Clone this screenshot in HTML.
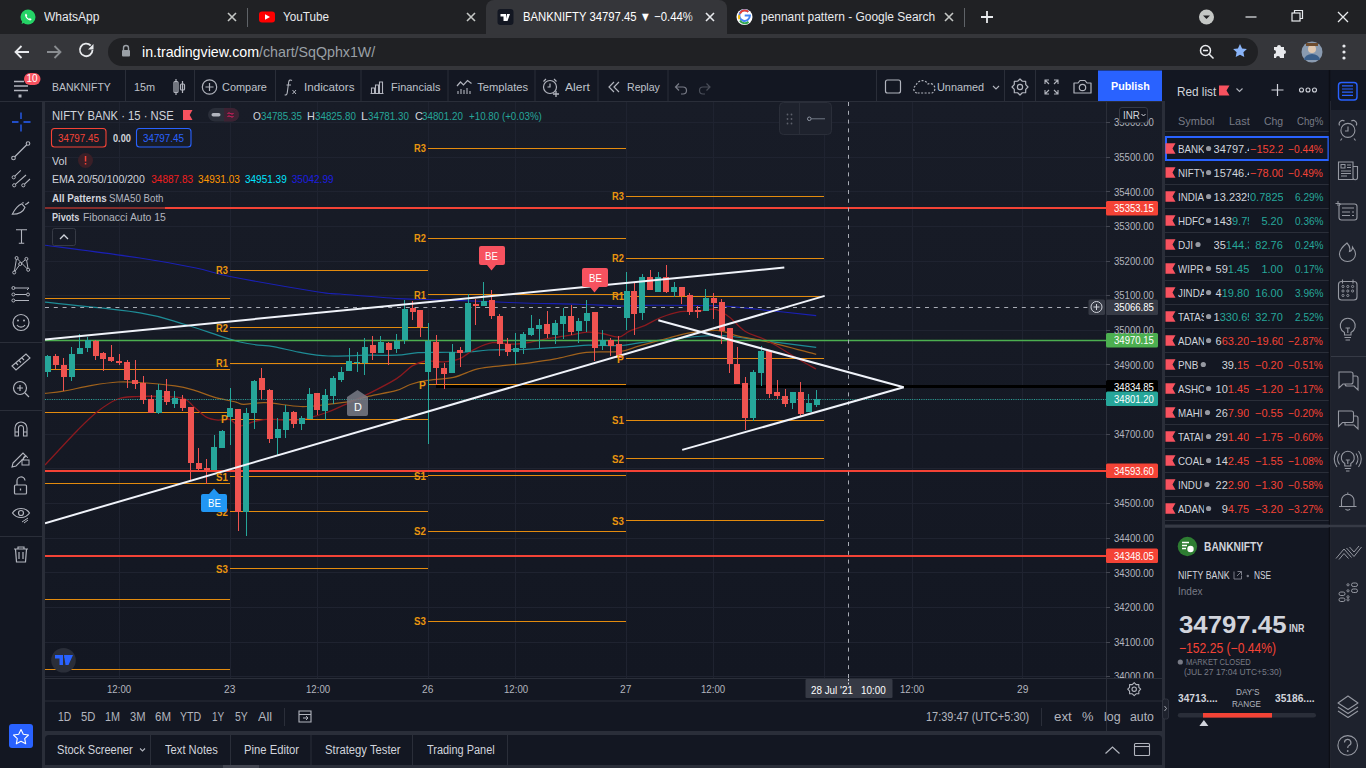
<!DOCTYPE html><html><head><meta charset="utf-8"><style>
*{margin:0;padding:0;box-sizing:border-box}
html,body{width:1366px;height:768px;overflow:hidden;background:#2a2e39;font-family:"Liberation Sans", sans-serif;}
.a{position:absolute;white-space:nowrap}
.t{position:absolute;white-space:nowrap;line-height:1}
svg{position:absolute;left:0;top:0}
</style></head><body>
<div class="a" style="left:0;top:0;width:1366px;height:34px;background:#202124"></div><div class="a" style="left:486px;top:0;width:241px;height:35px;background:#35363a;border-radius:8px 8px 0 0"></div><div class="a" style="left:0;top:34px;width:1366px;height:36px;background:#35363a"></div><div class="a" style="left:108px;top:38px;width:1150px;height:28px;background:#202124;border-radius:14px"></div><svg width="1366" height="70" style="left:0;top:0">
<circle cx="28" cy="17" r="7.5" fill="#25d366"/>
<path d="M21.5 24 L23 19.5 L26 22 Z" fill="#25d366"/>
<path d="M25.3 14.2 c0.5-0.6 1-0.6 1.3 0 l0.6 1.3 c0.1 0.3-0.3 0.7-0.5 1 c0.4 0.9 1.3 1.8 2.2 2.2 c0.3-0.2 0.6-0.6 1-0.5 l1.3 0.6 c0.5 0.3 0.4 0.9-0.1 1.3 c-1.5 1.1-5.3-1.2-6-4.3 c-0.1-0.6 0-1.2 0.2-1.6z" fill="#fff"/>
<rect x="259" y="11.5" width="16" height="11" rx="3" fill="#ff0000"/>
<path d="M265 14.3 L270 17 L265 19.7 Z" fill="#fff"/>
<line x1="247.5" y1="8" x2="247.5" y2="27" stroke="#5f6368" stroke-width="1"/>
<path d="M228 13 L236 21 M236 13 L228 21" stroke="#c4c7c5" stroke-width="1.6"/>
<path d="M467 13 L475 21 M475 13 L467 21" stroke="#c4c7c5" stroke-width="1.6"/>
<rect x="497.5" y="9" width="16" height="16" rx="3" fill="#131722"/>
<path d="M500.5 14 h5.5 v7 h-2.5 v-4.5 h-3z M507 14 h3 l-2.5 7 h-2z" fill="#fff"/>
<path d="M706 13 L714 21 M714 13 L706 21" stroke="#e8eaed" stroke-width="1.6"/>
<circle cx="744.5" cy="17" r="8" fill="#fff"/>
<path d="M744.7 15.6 h5.2 a5.3 5.3 0 1 1 -1.6 -3.8" fill="none" stroke="#4285f4" stroke-width="2"/>
<path d="M740 13.5 a5.3 5.3 0 0 1 8.3 -1.7" fill="none" stroke="#ea4335" stroke-width="2"/>
<path d="M739.4 15 a5.3 5.3 0 0 0 0 4.2" fill="none" stroke="#fbbc05" stroke-width="2"/>
<path d="M740 20.5 a5.3 5.3 0 0 0 8.5 1.2" fill="none" stroke="#34a853" stroke-width="2"/>
<path d="M945 13 L953 21 M953 13 L945 21" stroke="#c4c7c5" stroke-width="1.6"/>
<line x1="964.5" y1="8" x2="964.5" y2="27" stroke="#5f6368" stroke-width="1"/>
<path d="M981 17 h12 M987 11 v12" stroke="#e8eaed" stroke-width="1.8"/>
<circle cx="1206.5" cy="17" r="7.5" fill="#c4c7c5"/>
<path d="M1203 15.5 L1206.5 19 L1210 15.5 Z" fill="#202124"/>
<line x1="1245.5" y1="17" x2="1256.5" y2="17" stroke="#e8eaed" stroke-width="1.2"/>
<rect x="1292" y="13" width="8" height="8" fill="none" stroke="#e8eaed" stroke-width="1.2"/>
<path d="M1294.5 13 v-2.5 h8 v8 h-2.5" fill="none" stroke="#e8eaed" stroke-width="1.2"/>
<path d="M1338 12 L1348 22 M1348 12 L1338 22" stroke="#e8eaed" stroke-width="1.3"/>
<path d="M29 52 H15.5 M21.5 46 L15.5 52 L21.5 58" fill="none" stroke="#e8eaed" stroke-width="1.8"/>
<path d="M47 52 H60.5 M54.5 46 L60.5 52 L54.5 58" fill="none" stroke="#8a8d91" stroke-width="1.8"/>
<path d="M92.5 50 a6.3 6.3 0 1 1 -1.8 -4.5" fill="none" stroke="#e8eaed" stroke-width="1.8"/>
<path d="M93.5 44 v5.5 h-5.5 z" fill="#e8eaed"/>
<rect x="122" y="50" width="8" height="6.5" rx="1" fill="#9aa0a6"/>
<path d="M123.5 50 v-2 a2.5 2.5 0 0 1 5 0 v2" fill="none" stroke="#9aa0a6" stroke-width="1.4"/>
<circle cx="1205.5" cy="50.5" r="5" fill="none" stroke="#e8eaed" stroke-width="1.5"/>
<path d="M1209 54 L1213.5 58.5 M1203 50.5 h5" stroke="#e8eaed" stroke-width="1.5"/>
<path d="M1240 44 l2.1 4.4 4.8 0.6 -3.5 3.3 0.9 4.8 -4.3 -2.3 -4.3 2.3 0.9 -4.8 -3.5 -3.3 4.8 -0.6z" fill="#8ab4f8"/>
<path d="M1274 47 h3 a2 2 0 0 1 4 0 h3 v3 a2 2 0 0 1 0 4 v4 h-4 a2 2 0 0 0 -4 0 h-2 v-4 a2 2 0 0 0 0 -4z" fill="#e8eaed"/>
<circle cx="1312" cy="52" r="10.5" fill="#8a9bb0"/>
<circle cx="1312" cy="49" r="4" fill="#e0c8b0"/>
<path d="M1304 60 a8 6 0 0 1 16 0" fill="#3b5f8a"/>
<rect x="1306" y="43" width="12" height="3" fill="#6d4c2f"/>
<circle cx="1344" cy="46" r="1.6" fill="#e8eaed"/><circle cx="1344" cy="52" r="1.6" fill="#e8eaed"/><circle cx="1344" cy="58" r="1.6" fill="#e8eaed"/>
</svg><div class="t" style="left:44.3px;top:11.0px;font-size:12.5px;color:#e8eaed;font-weight:normal;transform:scaleX(0.962);transform-origin:0 50%;">WhatsApp</div><div class="t" style="left:283.3px;top:11.0px;font-size:12.5px;color:#e8eaed;font-weight:normal;transform:scaleX(0.936);transform-origin:0 50%;">YouTube</div><div class="t" style="left:522.5px;top:11.0px;font-size:12.5px;color:#fff;font-weight:normal;transform:scaleX(0.905);transform-origin:0 50%;">BANKNIFTY 34797.45 ▼ −0.44%</div><div class="a" style="left:688px;top:6px;width:14px;height:22px;background:linear-gradient(90deg,rgba(53,54,58,0),#35363a)"></div><div class="t" style="left:761.0px;top:11.0px;font-size:12.5px;color:#e8eaed;font-weight:normal;transform:scaleX(0.957);transform-origin:0 50%;">pennant pattern - Google Search</div><div class="t" style="left:141.8px;top:45.0px;font-size:14.5px;color:#fff;font-weight:normal;transform:scaleX(0.981);transform-origin:0 50%;"><span style="color:#fff">in.tradingview.com</span><span style="color:#9aa0a6">/chart/SqQphx1W/</span></div><!--TV--><div class="a" style="left:0;top:70px;width:1366px;height:31px;background:#131722"></div><div class="a" style="left:0;top:102px;width:42px;height:666px;background:#131722"></div><div class="a" style="left:45px;top:102px;width:1117px;height:629px;background:#131722"></div><div class="a" style="left:45px;top:102px;width:1117px;height:576px;background:linear-gradient(180deg,#181c27,#131722)"></div><div class="a" style="left:45px;top:735px;width:1117px;height:30px;background:#131722;border-radius:4px 4px 0 0"></div><div class="a" style="left:1165px;top:70px;width:164px;height:455px;background:#131722"></div><div class="a" style="left:1165px;top:528px;width:164px;height:240px;background:#131722"></div><div class="a" style="left:1331px;top:70px;width:35px;height:698px;background:#1e222d"></div><div class="a" style="left:1331px;top:70px;width:35px;height:40px;background:#131722"></div><svg width="1366" height="768">
<line x1="125.5" y1="70" x2="125.5" y2="101" stroke="#2a2e39" stroke-width="1"/>
<line x1="194.5" y1="70" x2="194.5" y2="101" stroke="#2a2e39" stroke-width="1"/>
<line x1="275.5" y1="70" x2="275.5" y2="101" stroke="#2a2e39" stroke-width="1"/>
<line x1="361" y1="70" x2="361" y2="101" stroke="#2a2e39" stroke-width="1"/>
<line x1="448" y1="70" x2="448" y2="101" stroke="#2a2e39" stroke-width="1"/>
<line x1="535" y1="70" x2="535" y2="101" stroke="#2a2e39" stroke-width="1"/>
<line x1="598" y1="70" x2="598" y2="101" stroke="#2a2e39" stroke-width="1"/>
<line x1="668" y1="70" x2="668" y2="101" stroke="#2a2e39" stroke-width="1"/>
<line x1="876.5" y1="70" x2="876.5" y2="101" stroke="#2a2e39" stroke-width="1"/>
<line x1="1004.5" y1="70" x2="1004.5" y2="101" stroke="#2a2e39" stroke-width="1"/>
<line x1="1035.5" y1="70" x2="1035.5" y2="101" stroke="#2a2e39" stroke-width="1"/>
<line x1="0" y1="101.5" x2="1162" y2="101.5" stroke="#2a2e39" stroke-width="1.2"/>
<rect x="1098" y="70.5" width="64" height="30.5" fill="#2962ff"/>
<path d="M14 81.5 h10 M14 86 h14 M14 90.5 h14" stroke="#b2b5be" stroke-width="1.4"/><rect x="18.5" y="94.5" width="3" height="3" fill="#b2b5be"/>
<rect x="24" y="73" width="16.5" height="12" rx="6" fill="#f7525f"/>
<rect x="174" y="81.5" width="4" height="11" rx="1" fill="none" stroke="#b2b5be" stroke-width="1.2"/><line x1="176" y1="79" x2="176" y2="95" stroke="#b2b5be" stroke-width="1.2"/>
<rect x="180.5" y="84" width="4" height="6" rx="1" fill="none" stroke="#b2b5be" stroke-width="1.2"/><line x1="182.5" y1="81" x2="182.5" y2="93" stroke="#b2b5be" stroke-width="1.2"/>
<circle cx="209.5" cy="87" r="7.2" fill="none" stroke="#b2b5be" stroke-width="1.2"/><path d="M209.5 83 v8 M205.5 87 h8" stroke="#b2b5be" stroke-width="1.2"/>
<path d="M292 80.5 c-1.5-1-3-0.5-3.3 1.5 l-1.5 11 c-0.3 1.8-1.3 2.2-2.5 1.8 M286.5 85 h4.5" fill="none" stroke="#b2b5be" stroke-width="1.1"/><path d="M292.5 90 l3.5 4 M296 90 l-3.5 4" stroke="#b2b5be" stroke-width="1"/>
<path d="M370.5 93.5 h13 M371.5 93 v-5 h3 v5 M375.5 93 v-8 h3 v8 M379.5 93 v-11 h3 v11" fill="none" stroke="#b2b5be" stroke-width="1.1"/>
<path d="M457 86 l3.5-4 3 3 4-4.5 4 3" fill="none" stroke="#b2b5be" stroke-width="1.2"/><path d="M458 94 v-3 M461 94 v-5 M464 94 v-4 M467 94 v-6 M470 94 v-3" stroke="#b2b5be" stroke-width="1.1"/>
<circle cx="550" cy="87" r="6.5" fill="none" stroke="#b2b5be" stroke-width="1.2"/><path d="M550 83.5 v3.5 h-2.5 M543.5 81.5 l2.5-2.5 M556.5 81.5 l-2.5-2.5" fill="none" stroke="#b2b5be" stroke-width="1.2"/><path d="M556 91 v6 M553 94 h6" stroke="#b2b5be" stroke-width="1.3"/>
<path d="M614 82 l-5 5 5 5 M619 82 l-5 5 5 5" fill="none" stroke="#b2b5be" stroke-width="1.2"/>
<path d="M676 87 h7 a3.5 3.5 0 0 1 0 7 h-2 M679 83.5 l-3.5 3.5 3.5 3.5" fill="none" stroke="#787b86" stroke-width="1.2"/>
<path d="M710 87 h-7 a3.5 3.5 0 0 0 0 7 h2 M706.5 83.5 l3.5 3.5 -3.5 3.5" fill="none" stroke="#4a4e59" stroke-width="1.2"/>
<rect x="885.5" y="80" width="15" height="13" rx="2" fill="none" stroke="#b2b5be" stroke-width="1.2"/>
<path d="M917 93 a4 4 0 0 1 -1 -7.5 a6.5 6.5 0 0 1 12 -1.5 a4.5 4.5 0 0 1 4 9 z" fill="none" stroke="#b2b5be" stroke-width="1.2" stroke-dasharray="2 1.5"/>
<path d="M993 86 l3 3 3-3" fill="none" stroke="#b2b5be" stroke-width="1.1"/>
<polygon points="1028.00,87.00 1025.73,89.37 1025.66,92.66 1022.37,92.73 1020.00,95.00 1017.63,92.73 1014.34,92.66 1014.27,89.37 1012.00,87.00 1014.27,84.63 1014.34,81.34 1017.63,81.27 1020.00,79.00 1022.37,81.27 1025.66,81.34 1025.73,84.63" fill="none" stroke="#b2b5be" stroke-width="1.2" stroke-linejoin="round"/><circle cx="1020" cy="87" r="2.6" fill="none" stroke="#b2b5be" stroke-width="1.2"/>
<path d="M1045 84 v-4 h4 M1045 80 l4 4 M1058 84 v-4 h-4 M1058 80 l-4 4 M1045 90 v4 h4 M1045 94 l4 -4 M1058 90 v4 h-4 M1058 94 l-4 -4" fill="none" stroke="#b2b5be" stroke-width="1.1"/>
<path d="M1074 83 h4 l2-2.5 h5 l2 2.5 h4 v10 h-17z" fill="none" stroke="#b2b5be" stroke-width="1.2" stroke-linejoin="round"/><circle cx="1082.5" cy="87.5" r="3.2" fill="none" stroke="#b2b5be" stroke-width="1.2"/>
<path d="M21 112.5 v6.5 M21 124.5 v7 M12 122 h6.5 M23.5 122 h7" stroke="#2962ff" stroke-width="1.3"/>
<path d="M14.5 157 L27 144.5" stroke="#b2b5be" stroke-width="1.2"/><circle cx="13.5" cy="158" r="1.8" fill="#131722" stroke="#b2b5be" stroke-width="1.1"/><circle cx="28" cy="143.5" r="1.8" fill="#131722" stroke="#b2b5be" stroke-width="1.1"/>
<path d="M14.6 176.3 L20.8 170.3 M15.3 184.3 L26 175 M24.3 184.3 L30 179" stroke="#b2b5be" stroke-width="1.1"/><circle cx="13.7" cy="177.3" r="1.6" fill="#131722" stroke="#b2b5be" stroke-width="1"/><circle cx="14.2" cy="185.3" r="1.6" fill="#131722" stroke="#b2b5be" stroke-width="1"/><circle cx="23.3" cy="185.3" r="1.6" fill="#131722" stroke="#b2b5be" stroke-width="1"/>
<path d="M12.3 214.3 c2.5-5 6-9 9.5-10.5 l3.2 3.5 c-1.5 4-6 7-12.7 7z M25 204.5 c1.3 0 2.5-1 4-2.5 M23 202 v1.5" fill="none" stroke="#b2b5be" stroke-width="1.1"/>
<path d="M16 229.7 h11 M21.5 229.7 v13.5 M18.8 243.2 h5.4" stroke="#b2b5be" stroke-width="1.1"/>
<path d="M16.6 258 L14.2 272.5 M16.6 258 L28.2 269.8 M26.4 258.9 L20.2 264 L14.2 272.5 M26.4 258.9 L28.2 269.8" fill="none" stroke="#b2b5be" stroke-width="1"/><circle cx="16.6" cy="258" r="1.5" fill="#131722" stroke="#b2b5be"/><circle cx="26.4" cy="258.9" r="1.5" fill="#131722" stroke="#b2b5be"/><circle cx="20.2" cy="264" r="1.5" fill="#131722" stroke="#b2b5be"/><circle cx="14.2" cy="272.5" r="1.5" fill="#131722" stroke="#b2b5be"/><circle cx="28.2" cy="269.8" r="1.5" fill="#131722" stroke="#b2b5be"/>
<path d="M15 288 h14 l-2 2 M15 294.5 h12 M15 300.5 h14" fill="none" stroke="#b2b5be" stroke-width="1"/><circle cx="13.4" cy="288" r="1.5" fill="#131722" stroke="#b2b5be"/><circle cx="13.4" cy="294.5" r="1.5" fill="#131722" stroke="#b2b5be"/><circle cx="28" cy="294.5" r="1.5" fill="#131722" stroke="#b2b5be"/><circle cx="13.4" cy="300.5" r="1.5" fill="#131722" stroke="#b2b5be"/>
<circle cx="21" cy="322.5" r="8" fill="none" stroke="#b2b5be" stroke-width="1.2"/><circle cx="18" cy="320.5" r="1" fill="#b2b5be"/><circle cx="24" cy="320.5" r="1" fill="#b2b5be"/><path d="M17 325 a4.5 4 0 0 0 8 0" fill="none" stroke="#b2b5be" stroke-width="1.2"/>
<line x1="0" y1="342.5" x2="42" y2="342.5" stroke="#2a2e39"/><line x1="0" y1="410.5" x2="42" y2="410.5" stroke="#2a2e39"/><line x1="0" y1="536.5" x2="42" y2="536.5" stroke="#2a2e39"/>
<path d="M12 366 l14-12 4 4 -14 12z M16 363 l2 2 M19 360.5 l2 2 M22 358 l2 2" fill="none" stroke="#b2b5be" stroke-width="1.1"/>
<circle cx="20" cy="388" r="6.5" fill="none" stroke="#b2b5be" stroke-width="1.2"/><path d="M20 385 v6 M17 388 h6 M25 393 l4 4" stroke="#b2b5be" stroke-width="1.2"/>
<path d="M15 436 v-8 a6 6 0 0 1 12 0 v8 h-3.5 v-8 a2.5 2.5 0 0 0 -5 0 v8 z M15 432 h3.5 M23.5 432 h3.5" fill="none" stroke="#b2b5be" stroke-width="1.1"/>
<path d="M13 463 l10-10 3 3 -10 10 -4 1z" fill="none" stroke="#b2b5be" stroke-width="1.1"/><rect x="22" y="460" width="7" height="5" fill="none" stroke="#b2b5be" stroke-width="1"/><path d="M23.5 460 v-2 a2 2 0 0 1 4 0" fill="none" stroke="#b2b5be"/>
<rect x="14.5" y="485" width="12" height="9" rx="1" fill="none" stroke="#b2b5be" stroke-width="1.2"/><path d="M17 485 v-3.5 a4 4 0 0 1 8 -1" fill="none" stroke="#b2b5be" stroke-width="1.2"/><path d="M20.5 488.5 v2" stroke="#b2b5be" stroke-width="1.3"/>
<path d="M12.5 513 c4-6 13-6 17 0 c-4 6-13 6-17 0z" fill="none" stroke="#b2b5be" stroke-width="1.2"/><circle cx="21" cy="513" r="2.5" fill="none" stroke="#b2b5be" stroke-width="1.2"/><path d="M22 522 l6-4 M24 523 l4-3" stroke="#b2b5be" stroke-width="1"/>
<path d="M14 549 h14 M18 549 v-2 h6 v2 M15.5 549 l1 13 h9 l1-13 M19 552 v7 M23 552 v7" fill="none" stroke="#b2b5be" stroke-width="1.2"/>
<rect x="9" y="724" width="24" height="24" rx="3" fill="#2962ff"/>
<path d="M21 729.5 l2.3 4.8 5.2 0.7 -3.8 3.6 1 5.2 -4.7 -2.5 -4.7 2.5 1 -5.2 -3.8 -3.6 5.2 -0.7z" fill="none" stroke="#fff" stroke-width="1.1" stroke-linejoin="round"/>
</svg><div class="t" style="left:52.4px;top:81.6px;font-size:11.2px;color:#bfc2ca;font-weight:normal;transform:scaleX(0.937);transform-origin:0 50%;">BANKNIFTY</div><div class="t" style="left:134.0px;top:81.6px;font-size:11.2px;color:#bfc2ca;font-weight:normal;transform:scaleX(0.973);transform-origin:0 50%;">15m</div><div class="t" style="left:222.4px;top:81.6px;font-size:11.2px;color:#bfc2ca;font-weight:normal;transform:scaleX(0.977);transform-origin:0 50%;">Compare</div><div class="t" style="left:304.0px;top:81.6px;font-size:11.2px;color:#bfc2ca;font-weight:normal;transform:scaleX(1.040);transform-origin:0 50%;">Indicators</div><div class="t" style="left:390.5px;top:81.6px;font-size:11.2px;color:#bfc2ca;font-weight:normal;transform:scaleX(0.980);transform-origin:0 50%;">Financials</div><div class="t" style="left:477.2px;top:81.6px;font-size:11.2px;color:#bfc2ca;font-weight:normal;">Templates</div><div class="t" style="left:565.0px;top:81.6px;font-size:11.2px;color:#bfc2ca;font-weight:normal;transform:scaleX(1.081);transform-origin:0 50%;">Alert</div><div class="t" style="left:627.0px;top:81.6px;font-size:11.2px;color:#bfc2ca;font-weight:normal;transform:scaleX(0.944);transform-origin:0 50%;">Replay</div><div class="t" style="left:936.7px;top:81.6px;font-size:11.2px;color:#bfc2ca;font-weight:normal;transform:scaleX(0.972);transform-origin:0 50%;">Unnamed</div><div class="t" style="left:1110.8px;top:80.5px;font-size:11.5px;color:#fff;font-weight:bold;transform:scaleX(0.935);transform-origin:0 50%;">Publish</div><div class="t" style="left:26.5px;top:74.2px;font-size:10px;color:#fff;font-weight:normal;">10</div><!--CHART--><svg width="1366" height="768"><defs><clipPath id="cc"><rect x="45" y="102" width="1061" height="576"/></clipPath></defs>
<g clip-path="url(#cc)">
<line x1="45" y1="122.5" x2="1106" y2="122.5" stroke="#1f2330" stroke-width="1"/>
<line x1="45" y1="157.5" x2="1106" y2="157.5" stroke="#1f2330" stroke-width="1"/>
<line x1="45" y1="191.5" x2="1106" y2="191.5" stroke="#1f2330" stroke-width="1"/>
<line x1="45" y1="226.5" x2="1106" y2="226.5" stroke="#1f2330" stroke-width="1"/>
<line x1="45" y1="261.5" x2="1106" y2="261.5" stroke="#1f2330" stroke-width="1"/>
<line x1="45" y1="295.5" x2="1106" y2="295.5" stroke="#1f2330" stroke-width="1"/>
<line x1="45" y1="330.5" x2="1106" y2="330.5" stroke="#1f2330" stroke-width="1"/>
<line x1="45" y1="364.5" x2="1106" y2="364.5" stroke="#1f2330" stroke-width="1"/>
<line x1="45" y1="399.5" x2="1106" y2="399.5" stroke="#1f2330" stroke-width="1"/>
<line x1="45" y1="434.5" x2="1106" y2="434.5" stroke="#1f2330" stroke-width="1"/>
<line x1="45" y1="468.5" x2="1106" y2="468.5" stroke="#1f2330" stroke-width="1"/>
<line x1="45" y1="503.5" x2="1106" y2="503.5" stroke="#1f2330" stroke-width="1"/>
<line x1="45" y1="538.5" x2="1106" y2="538.5" stroke="#1f2330" stroke-width="1"/>
<line x1="45" y1="572.5" x2="1106" y2="572.5" stroke="#1f2330" stroke-width="1"/>
<line x1="45" y1="607.5" x2="1106" y2="607.5" stroke="#1f2330" stroke-width="1"/>
<line x1="45" y1="642.5" x2="1106" y2="642.5" stroke="#1f2330" stroke-width="1"/>
<line x1="45" y1="676.5" x2="1106" y2="676.5" stroke="#1f2330" stroke-width="1"/>
<line x1="119.5" y1="102" x2="119.5" y2="678" stroke="#1f2330" stroke-width="1"/>
<line x1="230.5" y1="102" x2="230.5" y2="678" stroke="#1f2330" stroke-width="1"/>
<line x1="317.5" y1="102" x2="317.5" y2="678" stroke="#1f2330" stroke-width="1"/>
<line x1="428.5" y1="102" x2="428.5" y2="678" stroke="#1f2330" stroke-width="1"/>
<line x1="515.5" y1="102" x2="515.5" y2="678" stroke="#1f2330" stroke-width="1"/>
<line x1="626.5" y1="102" x2="626.5" y2="678" stroke="#1f2330" stroke-width="1"/>
<line x1="713.5" y1="102" x2="713.5" y2="678" stroke="#1f2330" stroke-width="1"/>
<line x1="824.5" y1="102" x2="824.5" y2="678" stroke="#1f2330" stroke-width="1"/>
<line x1="912.5" y1="102" x2="912.5" y2="678" stroke="#1f2330" stroke-width="1"/>
<line x1="1022.5" y1="102" x2="1022.5" y2="678" stroke="#1f2330" stroke-width="1"/>
<line x1="45" y1="298.5" x2="230" y2="298.5" stroke="#e38b0e" stroke-width="1.2"/>
<line x1="45" y1="369.5" x2="230" y2="369.5" stroke="#e38b0e" stroke-width="1.2"/>
<line x1="45" y1="412.5" x2="230" y2="412.5" stroke="#e38b0e" stroke-width="1.2"/>
<line x1="45" y1="483.5" x2="230" y2="483.5" stroke="#e38b0e" stroke-width="1.2"/>
<line x1="45" y1="555.5" x2="230" y2="555.5" stroke="#e38b0e" stroke-width="1.2"/>
<line x1="45" y1="599.5" x2="230" y2="599.5" stroke="#e38b0e" stroke-width="1.2"/>
<line x1="45" y1="669.5" x2="230" y2="669.5" stroke="#e38b0e" stroke-width="1.2"/>
<line x1="230" y1="270.5" x2="428" y2="270.5" stroke="#e38b0e" stroke-width="1.2"/>
<line x1="230" y1="327.5" x2="428" y2="327.5" stroke="#e38b0e" stroke-width="1.2"/>
<line x1="230" y1="363.5" x2="428" y2="363.5" stroke="#e38b0e" stroke-width="1.2"/>
<line x1="230" y1="419.5" x2="428" y2="419.5" stroke="#e38b0e" stroke-width="1.2"/>
<line x1="230" y1="476.5" x2="428" y2="476.5" stroke="#e38b0e" stroke-width="1.2"/>
<line x1="230" y1="511.5" x2="428" y2="511.5" stroke="#e38b0e" stroke-width="1.2"/>
<line x1="230" y1="568.5" x2="428" y2="568.5" stroke="#e38b0e" stroke-width="1.2"/>
<line x1="428" y1="148.5" x2="626" y2="148.5" stroke="#e38b0e" stroke-width="1.2"/>
<line x1="428" y1="238.5" x2="626" y2="238.5" stroke="#e38b0e" stroke-width="1.2"/>
<line x1="428" y1="294.5" x2="626" y2="294.5" stroke="#e38b0e" stroke-width="1.2"/>
<line x1="428" y1="384.5" x2="626" y2="384.5" stroke="#e38b0e" stroke-width="1.2"/>
<line x1="428" y1="475.5" x2="626" y2="475.5" stroke="#e38b0e" stroke-width="1.2"/>
<line x1="428" y1="531.5" x2="626" y2="531.5" stroke="#e38b0e" stroke-width="1.2"/>
<line x1="428" y1="621.5" x2="626" y2="621.5" stroke="#e38b0e" stroke-width="1.2"/>
<line x1="626" y1="196.5" x2="824" y2="196.5" stroke="#e38b0e" stroke-width="1.2"/>
<line x1="626" y1="258.5" x2="824" y2="258.5" stroke="#e38b0e" stroke-width="1.2"/>
<line x1="626" y1="296.5" x2="824" y2="296.5" stroke="#e38b0e" stroke-width="1.2"/>
<line x1="626" y1="358.5" x2="824" y2="358.5" stroke="#e38b0e" stroke-width="1.2"/>
<line x1="626" y1="420.5" x2="824" y2="420.5" stroke="#e38b0e" stroke-width="1.2"/>
<line x1="626" y1="458.5" x2="824" y2="458.5" stroke="#e38b0e" stroke-width="1.2"/>
<line x1="626" y1="520.5" x2="824" y2="520.5" stroke="#e38b0e" stroke-width="1.2"/>
<path d="M45.0,245.2 C60.8,247.3 114.8,254.2 140.0,258.0 C165.2,261.8 181.0,264.9 196.0,268.0 C211.0,271.1 209.9,272.6 230.0,276.5 C250.1,280.4 298.4,288.8 316.7,291.7 C335.0,294.6 326.4,292.9 340.0,294.0 C353.6,295.1 381.9,297.6 398.6,298.6 C415.3,299.6 426.6,299.4 440.0,299.8 C453.4,300.2 463.8,300.7 478.8,301.3 C493.8,301.9 513.4,302.7 530.0,303.2 C546.6,303.7 563.6,303.7 578.6,304.2 C593.6,304.7 609.0,305.8 620.0,306.0 C631.0,306.2 628.5,305.3 644.7,305.3 C660.9,305.3 698.5,305.1 717.3,305.8 C736.0,306.5 740.7,307.7 757.2,309.3 C773.7,310.9 806.4,314.6 816.2,315.6" fill="none" stroke="#1a20b5" stroke-width="1.15" stroke-opacity="1.0"/>
<path d="M45.0,302.2 C60.8,304.0 116.7,309.1 140.0,312.8 C163.3,316.5 168.3,319.6 185.0,324.5 C201.7,329.4 225.3,338.3 240.0,342.0 C254.7,345.7 263.6,344.9 273.4,346.6 C283.2,348.3 289.7,350.5 298.8,352.1 C307.9,353.7 316.4,355.5 328.1,356.0 C339.9,356.5 357.9,355.3 369.3,355.2 C380.7,355.1 388.5,355.6 396.6,355.2 C404.7,354.8 410.8,353.2 418.0,352.7 C425.2,352.2 431.5,352.4 440.0,352.3 C448.5,352.2 460.9,352.4 469.0,352.0 C477.1,351.6 478.4,350.5 488.6,350.0 C498.8,349.5 516.6,349.7 530.0,349.1 C543.4,348.5 559.1,347.2 568.8,346.6 C578.5,346.0 579.9,345.4 588.4,345.2 C596.9,345.0 611.5,345.9 620.0,345.5 C628.5,345.1 631.2,343.9 639.3,342.9 C647.4,341.9 655.6,340.6 668.6,339.4 C681.6,338.2 700.6,335.2 717.3,335.5 C734.0,335.8 752.4,339.4 768.9,341.4 C785.4,343.4 808.3,346.3 816.2,347.3" fill="none" stroke="#1e8c96" stroke-width="1.2" stroke-opacity="1.0"/>
<path d="M45.0,393.4 C48.1,393.0 55.6,392.5 63.4,391.2 C71.2,389.9 82.9,386.8 92.0,385.3 C101.1,383.8 110.0,382.5 118.0,382.0 C126.0,381.5 130.5,381.9 140.0,382.5 C149.5,383.1 165.9,384.6 175.0,385.9 C184.1,387.2 188.1,388.5 194.6,390.4 C201.1,392.3 207.1,395.2 214.0,397.2 C220.9,399.1 231.1,400.9 236.0,402.1 C240.9,403.3 238.7,404.2 243.7,404.3 C248.7,404.4 256.3,402.3 265.8,402.7 C275.3,403.1 290.4,406.2 300.8,406.5 C311.2,406.8 319.9,405.2 328.1,404.3 C336.3,403.4 343.1,402.7 350.0,401.3 C356.9,399.9 361.5,398.0 369.3,396.2 C377.1,394.4 389.8,392.3 396.6,390.4 C403.4,388.4 405.4,386.1 410.3,384.5 C415.2,382.9 418.7,381.8 425.9,380.6 C433.1,379.4 445.2,379.2 453.4,377.4 C461.6,375.6 468.4,371.4 474.9,369.6 C481.4,367.8 486.3,367.5 492.5,366.7 C498.7,365.9 505.8,365.3 512.0,364.7 C518.2,364.1 522.8,363.8 530.0,362.8 C537.2,361.8 545.8,360.6 555.2,358.9 C564.6,357.2 575.6,353.6 586.4,352.4 C597.2,351.2 611.2,352.6 620.0,351.5 C628.8,350.4 631.2,348.1 639.3,345.8 C647.4,343.6 660.5,340.1 668.6,338.0 C676.7,335.9 680.0,334.4 688.1,333.1 C696.2,331.8 708.9,329.9 717.3,330.4 C725.7,330.9 729.8,334.2 738.4,336.2 C747.0,338.1 755.9,339.1 768.9,342.1 C781.9,345.1 808.3,352.3 816.2,354.3" fill="none" stroke="#a0621c" stroke-width="1.2" stroke-opacity="1.0"/>
<path d="M45.0,465.0 C50.5,459.2 69.1,438.9 77.8,430.0 C86.5,421.1 90.6,416.9 97.3,411.7 C104.0,406.5 111.5,401.5 118.0,399.0 C124.5,396.5 129.0,397.0 136.0,396.6 C143.0,396.2 152.2,396.2 160.0,396.5 C167.8,396.8 177.1,396.4 182.9,398.2 C188.7,400.0 190.7,404.2 194.6,407.4 C198.5,410.5 202.4,415.0 206.3,417.1 C210.2,419.2 214.1,419.7 218.0,420.1 C221.9,420.5 226.4,418.5 230.0,419.5 C233.6,420.5 235.2,425.7 239.3,426.0 C243.4,426.3 249.7,422.4 254.8,421.3 C259.9,420.2 263.9,419.2 270.2,419.1 C276.5,419.0 286.0,420.6 292.4,420.4 C298.8,420.2 302.7,419.3 308.6,417.9 C314.6,416.5 321.2,414.6 328.1,412.0 C335.0,409.4 343.1,405.4 350.0,402.3 C356.9,399.2 361.5,397.2 369.3,393.3 C377.1,389.4 389.4,383.2 396.6,378.6 C403.8,374.0 407.4,368.8 412.3,365.9 C417.2,363.0 420.7,361.7 425.9,361.0 C431.1,360.3 438.1,362.2 443.7,361.8 C449.3,361.4 454.1,361.0 459.3,358.9 C464.5,356.8 469.4,351.8 474.9,349.1 C480.4,346.4 486.3,343.5 492.5,342.7 C498.7,341.9 505.8,344.3 512.0,344.2 C518.2,344.1 524.8,343.1 530.0,342.3 C535.2,341.5 536.9,340.5 543.4,339.3 C549.9,338.1 561.5,336.6 568.8,335.4 C576.1,334.2 581.9,332.4 587.4,332.1 C592.9,331.8 596.8,332.7 602.0,333.5 C607.2,334.3 614.2,337.4 618.8,337.0 C623.4,336.6 625.1,333.1 629.5,331.2 C633.9,329.2 640.0,327.6 645.2,325.3 C650.4,323.0 654.9,319.8 660.8,317.5 C666.6,315.2 674.1,312.7 680.3,311.6 C686.5,310.5 692.0,311.4 697.9,311.0 C703.8,310.6 710.4,308.3 715.6,309.3 C720.8,310.3 724.4,313.5 729.3,317.1 C734.2,320.8 739.7,327.8 744.9,331.2 C750.1,334.6 755.6,335.4 760.5,337.6 C765.4,339.8 767.6,340.8 774.2,344.5 C780.8,348.2 793.0,355.9 800.0,360.0 C807.0,364.1 813.3,367.5 816.0,369.0" fill="none" stroke="#8b1a1f" stroke-width="1.3" stroke-opacity="1.0"/>
<line x1="45" y1="208" x2="1106" y2="208" stroke="#f44336" stroke-width="2"/>
<line x1="45" y1="471" x2="1106" y2="471" stroke="#f44336" stroke-width="2"/>
<line x1="45" y1="556" x2="1106" y2="556" stroke="#f44336" stroke-width="2"/>
<line x1="45" y1="340.5" x2="1106" y2="340.5" stroke="#4caf50" stroke-width="1.5"/>
<line x1="45" y1="307.5" x2="1106" y2="307.5" stroke="#a9acb5" stroke-width="1" stroke-dasharray="4 4.8"/>
<line x1="848.5" y1="102" x2="848.5" y2="678" stroke="#a9acb5" stroke-width="1" stroke-dasharray="4 4.8"/>
<rect x="436" y="385" width="670" height="3" fill="#000"/>
<line x1="45" y1="399.5" x2="1106" y2="399.5" stroke="#26a69a" stroke-width="1" stroke-dasharray="1 1.3"/>
<rect x="47" y="355" width="1" height="22" fill="#26a69a"/>
<rect x="45" y="356" width="6" height="16" fill="#26a69a"/>
<rect x="55" y="354" width="1" height="15" fill="#ef5350"/>
<rect x="53" y="356" width="6" height="9" fill="#ef5350"/>
<rect x="63" y="358" width="1" height="33" fill="#ef5350"/>
<rect x="61" y="365" width="6" height="12" fill="#ef5350"/>
<rect x="71" y="347" width="1" height="34" fill="#26a69a"/>
<rect x="69" y="354" width="6" height="23" fill="#26a69a"/>
<rect x="79" y="334" width="1" height="20" fill="#26a69a"/>
<rect x="77" y="348" width="6" height="6" fill="#26a69a"/>
<rect x="87" y="337" width="1" height="15" fill="#26a69a"/>
<rect x="85" y="340" width="6" height="8" fill="#26a69a"/>
<rect x="95" y="340" width="1" height="20" fill="#ef5350"/>
<rect x="93" y="341" width="6" height="15" fill="#ef5350"/>
<rect x="103" y="352" width="1" height="19" fill="#ef5350"/>
<rect x="100" y="353" width="6" height="6" fill="#ef5350"/>
<rect x="111" y="345" width="1" height="17" fill="#ef5350"/>
<rect x="108" y="357" width="6" height="4" fill="#ef5350"/>
<rect x="119" y="354" width="1" height="11" fill="#ef5350"/>
<rect x="116" y="361" width="6" height="2" fill="#ef5350"/>
<rect x="127" y="360" width="1" height="28" fill="#ef5350"/>
<rect x="124" y="362" width="6" height="18" fill="#ef5350"/>
<rect x="135" y="360" width="1" height="29" fill="#ef5350"/>
<rect x="132" y="380" width="6" height="4" fill="#ef5350"/>
<rect x="143" y="376" width="1" height="28" fill="#ef5350"/>
<rect x="140" y="383" width="6" height="17" fill="#ef5350"/>
<rect x="151" y="395" width="1" height="18" fill="#ef5350"/>
<rect x="148" y="399" width="6" height="14" fill="#ef5350"/>
<rect x="158" y="384" width="1" height="30" fill="#26a69a"/>
<rect x="156" y="390" width="6" height="23" fill="#26a69a"/>
<rect x="166" y="379" width="1" height="26" fill="#ef5350"/>
<rect x="164" y="391" width="6" height="11" fill="#ef5350"/>
<rect x="174" y="391" width="1" height="17" fill="#26a69a"/>
<rect x="172" y="398" width="6" height="6" fill="#26a69a"/>
<rect x="182" y="395" width="1" height="16" fill="#ef5350"/>
<rect x="180" y="399" width="6" height="9" fill="#ef5350"/>
<rect x="190" y="407" width="1" height="73" fill="#ef5350"/>
<rect x="188" y="407" width="6" height="56" fill="#ef5350"/>
<rect x="198" y="448" width="1" height="22" fill="#ef5350"/>
<rect x="196" y="463" width="6" height="6" fill="#ef5350"/>
<rect x="206" y="459" width="1" height="25" fill="#ef5350"/>
<rect x="204" y="468" width="6" height="2" fill="#ef5350"/>
<rect x="214" y="435" width="1" height="35" fill="#26a69a"/>
<rect x="211" y="447" width="6" height="23" fill="#26a69a"/>
<rect x="222" y="430" width="1" height="18" fill="#26a69a"/>
<rect x="219" y="431" width="6" height="17" fill="#26a69a"/>
<rect x="230" y="388" width="1" height="57" fill="#26a69a"/>
<rect x="227" y="408" width="6" height="9" fill="#26a69a"/>
<rect x="238" y="409" width="1" height="122" fill="#ef5350"/>
<rect x="235" y="409" width="6" height="103" fill="#ef5350"/>
<rect x="246" y="408" width="1" height="128" fill="#26a69a"/>
<rect x="243" y="413" width="6" height="99" fill="#26a69a"/>
<rect x="254" y="380" width="1" height="49" fill="#26a69a"/>
<rect x="251" y="381" width="6" height="32" fill="#26a69a"/>
<rect x="261" y="368" width="1" height="31" fill="#ef5350"/>
<rect x="259" y="378" width="6" height="12" fill="#ef5350"/>
<rect x="269" y="389" width="1" height="54" fill="#ef5350"/>
<rect x="267" y="390" width="6" height="49" fill="#ef5350"/>
<rect x="277" y="418" width="1" height="38" fill="#26a69a"/>
<rect x="275" y="429" width="6" height="9" fill="#26a69a"/>
<rect x="285" y="405" width="1" height="33" fill="#26a69a"/>
<rect x="283" y="412" width="6" height="18" fill="#26a69a"/>
<rect x="293" y="411" width="1" height="17" fill="#ef5350"/>
<rect x="291" y="412" width="6" height="12" fill="#ef5350"/>
<rect x="301" y="416" width="1" height="14" fill="#26a69a"/>
<rect x="299" y="418" width="6" height="6" fill="#26a69a"/>
<rect x="309" y="388" width="1" height="31" fill="#26a69a"/>
<rect x="307" y="394" width="6" height="25" fill="#26a69a"/>
<rect x="317" y="393" width="1" height="22" fill="#ef5350"/>
<rect x="314" y="393" width="6" height="17" fill="#ef5350"/>
<rect x="325" y="389" width="1" height="31" fill="#26a69a"/>
<rect x="322" y="395" width="6" height="16" fill="#26a69a"/>
<rect x="333" y="376" width="1" height="28" fill="#26a69a"/>
<rect x="330" y="378" width="6" height="18" fill="#26a69a"/>
<rect x="341" y="367" width="1" height="15" fill="#26a69a"/>
<rect x="338" y="372" width="6" height="8" fill="#26a69a"/>
<rect x="349" y="348" width="1" height="23" fill="#26a69a"/>
<rect x="346" y="361" width="6" height="10" fill="#26a69a"/>
<rect x="357" y="352" width="1" height="20" fill="#26a69a"/>
<rect x="354" y="362" width="6" height="1" fill="#26a69a"/>
<rect x="364" y="338" width="1" height="37" fill="#26a69a"/>
<rect x="362" y="347" width="6" height="16" fill="#26a69a"/>
<rect x="372" y="336" width="1" height="24" fill="#ef5350"/>
<rect x="370" y="345" width="6" height="8" fill="#ef5350"/>
<rect x="380" y="336" width="1" height="17" fill="#26a69a"/>
<rect x="378" y="342" width="6" height="11" fill="#26a69a"/>
<rect x="388" y="342" width="1" height="23" fill="#ef5350"/>
<rect x="386" y="343" width="6" height="7" fill="#ef5350"/>
<rect x="396" y="334" width="1" height="19" fill="#26a69a"/>
<rect x="394" y="341" width="6" height="8" fill="#26a69a"/>
<rect x="404" y="300" width="1" height="44" fill="#26a69a"/>
<rect x="402" y="309" width="6" height="31" fill="#26a69a"/>
<rect x="412" y="301" width="1" height="19" fill="#ef5350"/>
<rect x="410" y="308" width="6" height="4" fill="#ef5350"/>
<rect x="420" y="310" width="1" height="27" fill="#ef5350"/>
<rect x="417" y="310" width="6" height="17" fill="#ef5350"/>
<rect x="428" y="323" width="1" height="121" fill="#26a69a"/>
<rect x="425" y="341" width="6" height="31" fill="#26a69a"/>
<rect x="436" y="335" width="1" height="50" fill="#ef5350"/>
<rect x="433" y="342" width="6" height="26" fill="#ef5350"/>
<rect x="444" y="363" width="1" height="26" fill="#ef5350"/>
<rect x="441" y="368" width="6" height="6" fill="#ef5350"/>
<rect x="452" y="344" width="1" height="29" fill="#26a69a"/>
<rect x="449" y="352" width="6" height="21" fill="#26a69a"/>
<rect x="460" y="347" width="1" height="20" fill="#ef5350"/>
<rect x="457" y="350" width="6" height="3" fill="#ef5350"/>
<rect x="468" y="294" width="1" height="58" fill="#26a69a"/>
<rect x="465" y="303" width="6" height="49" fill="#26a69a"/>
<rect x="475" y="299" width="1" height="26" fill="#ef5350"/>
<rect x="473" y="304" width="6" height="2" fill="#ef5350"/>
<rect x="483" y="282" width="1" height="24" fill="#26a69a"/>
<rect x="481" y="301" width="6" height="5" fill="#26a69a"/>
<rect x="491" y="290" width="1" height="29" fill="#ef5350"/>
<rect x="489" y="300" width="6" height="16" fill="#ef5350"/>
<rect x="499" y="314" width="1" height="42" fill="#ef5350"/>
<rect x="497" y="316" width="6" height="28" fill="#ef5350"/>
<rect x="507" y="338" width="1" height="18" fill="#ef5350"/>
<rect x="505" y="344" width="6" height="8" fill="#ef5350"/>
<rect x="515" y="333" width="1" height="31" fill="#26a69a"/>
<rect x="513" y="348" width="6" height="4" fill="#26a69a"/>
<rect x="523" y="332" width="1" height="22" fill="#26a69a"/>
<rect x="520" y="334" width="6" height="14" fill="#26a69a"/>
<rect x="531" y="315" width="1" height="21" fill="#26a69a"/>
<rect x="528" y="328" width="6" height="7" fill="#26a69a"/>
<rect x="539" y="319" width="1" height="29" fill="#26a69a"/>
<rect x="536" y="325" width="6" height="4" fill="#26a69a"/>
<rect x="547" y="311" width="1" height="27" fill="#ef5350"/>
<rect x="544" y="324" width="6" height="10" fill="#ef5350"/>
<rect x="555" y="320" width="1" height="24" fill="#26a69a"/>
<rect x="552" y="323" width="6" height="12" fill="#26a69a"/>
<rect x="563" y="308" width="1" height="31" fill="#26a69a"/>
<rect x="560" y="316" width="6" height="8" fill="#26a69a"/>
<rect x="571" y="305" width="1" height="30" fill="#ef5350"/>
<rect x="568" y="316" width="6" height="16" fill="#ef5350"/>
<rect x="578" y="318" width="1" height="25" fill="#26a69a"/>
<rect x="576" y="321" width="6" height="10" fill="#26a69a"/>
<rect x="586" y="300" width="1" height="32" fill="#26a69a"/>
<rect x="584" y="313" width="6" height="8" fill="#26a69a"/>
<rect x="594" y="312" width="1" height="49" fill="#ef5350"/>
<rect x="592" y="312" width="6" height="36" fill="#ef5350"/>
<rect x="602" y="330" width="1" height="20" fill="#26a69a"/>
<rect x="600" y="340" width="6" height="6" fill="#26a69a"/>
<rect x="610" y="338" width="1" height="18" fill="#ef5350"/>
<rect x="608" y="340" width="6" height="6" fill="#ef5350"/>
<rect x="618" y="336" width="1" height="24" fill="#ef5350"/>
<rect x="616" y="344" width="6" height="14" fill="#ef5350"/>
<rect x="626" y="272" width="1" height="58" fill="#26a69a"/>
<rect x="624" y="291" width="6" height="27" fill="#26a69a"/>
<rect x="634" y="283" width="1" height="52" fill="#ef5350"/>
<rect x="631" y="291" width="6" height="23" fill="#ef5350"/>
<rect x="642" y="274" width="1" height="46" fill="#26a69a"/>
<rect x="639" y="277" width="6" height="36" fill="#26a69a"/>
<rect x="650" y="270" width="1" height="20" fill="#ef5350"/>
<rect x="647" y="277" width="6" height="13" fill="#ef5350"/>
<rect x="658" y="272" width="1" height="20" fill="#26a69a"/>
<rect x="655" y="277" width="6" height="15" fill="#26a69a"/>
<rect x="666" y="265" width="1" height="28" fill="#ef5350"/>
<rect x="663" y="277" width="6" height="15" fill="#ef5350"/>
<rect x="674" y="282" width="1" height="15" fill="#26a69a"/>
<rect x="671" y="287" width="6" height="5" fill="#26a69a"/>
<rect x="681" y="287" width="1" height="17" fill="#ef5350"/>
<rect x="679" y="287" width="6" height="9" fill="#ef5350"/>
<rect x="689" y="293" width="1" height="22" fill="#ef5350"/>
<rect x="687" y="295" width="6" height="17" fill="#ef5350"/>
<rect x="697" y="306" width="1" height="12" fill="#ef5350"/>
<rect x="695" y="310" width="6" height="2" fill="#ef5350"/>
<rect x="705" y="289" width="1" height="22" fill="#26a69a"/>
<rect x="703" y="298" width="6" height="13" fill="#26a69a"/>
<rect x="713" y="293" width="1" height="26" fill="#ef5350"/>
<rect x="711" y="298" width="6" height="5" fill="#ef5350"/>
<rect x="721" y="299" width="1" height="45" fill="#ef5350"/>
<rect x="719" y="302" width="6" height="29" fill="#ef5350"/>
<rect x="729" y="328" width="1" height="45" fill="#ef5350"/>
<rect x="727" y="328" width="6" height="36" fill="#ef5350"/>
<rect x="737" y="347" width="1" height="37" fill="#ef5350"/>
<rect x="734" y="364" width="6" height="20" fill="#ef5350"/>
<rect x="745" y="377" width="1" height="53" fill="#ef5350"/>
<rect x="742" y="383" width="6" height="35" fill="#ef5350"/>
<rect x="753" y="370" width="1" height="51" fill="#26a69a"/>
<rect x="750" y="372" width="6" height="46" fill="#26a69a"/>
<rect x="761" y="346" width="1" height="40" fill="#26a69a"/>
<rect x="758" y="351" width="6" height="22" fill="#26a69a"/>
<rect x="769" y="351" width="1" height="47" fill="#ef5350"/>
<rect x="766" y="351" width="6" height="43" fill="#ef5350"/>
<rect x="777" y="380" width="1" height="19" fill="#ef5350"/>
<rect x="774" y="392" width="6" height="4" fill="#ef5350"/>
<rect x="785" y="389" width="1" height="18" fill="#ef5350"/>
<rect x="782" y="396" width="6" height="8" fill="#ef5350"/>
<rect x="792" y="392" width="1" height="17" fill="#26a69a"/>
<rect x="790" y="392" width="6" height="11" fill="#26a69a"/>
<rect x="800" y="382" width="1" height="34" fill="#ef5350"/>
<rect x="798" y="392" width="6" height="22" fill="#ef5350"/>
<rect x="808" y="394" width="1" height="18" fill="#26a69a"/>
<rect x="806" y="403" width="6" height="9" fill="#26a69a"/>
<rect x="816" y="390" width="1" height="17" fill="#26a69a"/>
<rect x="814" y="399" width="6" height="6" fill="#26a69a"/>
<line x1="45" y1="523.2" x2="824.7" y2="295.9" stroke="#f0f3fa" stroke-width="2"/>
<line x1="45" y1="339.4" x2="784.3" y2="267.6" stroke="#f0f3fa" stroke-width="2"/>
<line x1="658.3" y1="320.3" x2="903.7" y2="387.3" stroke="#f0f3fa" stroke-width="2"/>
<line x1="682.2" y1="449.9" x2="903.7" y2="387.3" stroke="#f0f3fa" stroke-width="2"/>
<path d="M479 248 a2 2 0 0 1 2 -2 h22 a2 2 0 0 1 2 2 v15 a2 2 0 0 1 -2 2 h-7 l-4.5 5.5 -4.5 -5.5 h-6 a2 2 0 0 1 -2 -2z" fill="#f7525f"/>
<path d="M582 270 a2 2 0 0 1 2 -2 h22 a2 2 0 0 1 2 2 v15 a2 2 0 0 1 -2 2 h-7 l-4.5 5.5 -4.5 -5.5 h-6 a2 2 0 0 1 -2 -2z" fill="#f7525f"/>
<path d="M347 397 l10.5 -7 10.5 7 v17 a2 2 0 0 1 -2 2 h-17 a2 2 0 0 1 -2 -2z" fill="#787b86" fill-opacity="0.85"/>
<circle cx="63.5" cy="660.2" r="12.3" fill="#2a2e39"/>
<path d="M55 655 h8 v10 h-3.5 v-6.5 h-4.5z M64 655 h9 l-4.5 10 h-3z" fill="#2962ff"/><circle cx="66" cy="657" r="1.6" fill="#2962ff"/>
</g>
<line x1="1106.5" y1="102" x2="1106.5" y2="731" stroke="#2a2e39" stroke-width="1"/>
<line x1="45" y1="678.5" x2="1162" y2="678.5" stroke="#2a2e39" stroke-width="1"/>
<line x1="45" y1="701" x2="1162" y2="701" stroke="#2a2e39" stroke-width="1"/>
<line x1="1106" y1="122.5" x2="1110" y2="122.5" stroke="#434651" stroke-width="1"/>
<line x1="1106" y1="157.5" x2="1110" y2="157.5" stroke="#434651" stroke-width="1"/>
<line x1="1106" y1="191.5" x2="1110" y2="191.5" stroke="#434651" stroke-width="1"/>
<line x1="1106" y1="226.5" x2="1110" y2="226.5" stroke="#434651" stroke-width="1"/>
<line x1="1106" y1="261.5" x2="1110" y2="261.5" stroke="#434651" stroke-width="1"/>
<line x1="1106" y1="295.5" x2="1110" y2="295.5" stroke="#434651" stroke-width="1"/>
<line x1="1106" y1="330.5" x2="1110" y2="330.5" stroke="#434651" stroke-width="1"/>
<line x1="1106" y1="364.5" x2="1110" y2="364.5" stroke="#434651" stroke-width="1"/>
<line x1="1106" y1="399.5" x2="1110" y2="399.5" stroke="#434651" stroke-width="1"/>
<line x1="1106" y1="434.5" x2="1110" y2="434.5" stroke="#434651" stroke-width="1"/>
<line x1="1106" y1="468.5" x2="1110" y2="468.5" stroke="#434651" stroke-width="1"/>
<line x1="1106" y1="503.5" x2="1110" y2="503.5" stroke="#434651" stroke-width="1"/>
<line x1="1106" y1="538.5" x2="1110" y2="538.5" stroke="#434651" stroke-width="1"/>
<line x1="1106" y1="572.5" x2="1110" y2="572.5" stroke="#434651" stroke-width="1"/>
<line x1="1106" y1="607.5" x2="1110" y2="607.5" stroke="#434651" stroke-width="1"/>
<line x1="1106" y1="642.5" x2="1110" y2="642.5" stroke="#434651" stroke-width="1"/>
<line x1="1106" y1="676.5" x2="1110" y2="676.5" stroke="#434651" stroke-width="1"/>
<rect x="779.5" y="102.5" width="52" height="32" rx="4" fill="#1e222d" stroke="#2a2e39"/>
<line x1="799.5" y1="103" x2="799.5" y2="135" stroke="#2a2e39"/>
<g fill="#5d606b"><circle cx="787.5" cy="114.5" r="0.9"/><circle cx="791.5" cy="114.5" r="0.9"/><circle cx="787.5" cy="119" r="0.9"/><circle cx="791.5" cy="119" r="0.9"/><circle cx="787.5" cy="123.5" r="0.9"/><circle cx="791.5" cy="123.5" r="0.9"/></g>
<circle cx="809.3" cy="118.8" r="1.8" fill="none" stroke="#8f96a3" stroke-width="1"/><line x1="811" y1="118.8" x2="825" y2="118.8" stroke="#707885" stroke-width="1"/>
<rect x="1106" y="201" width="52" height="14.5" rx="1.5" fill="#f44336"/>
<rect x="1106" y="333" width="52" height="14.5" rx="1.5" fill="#4caf50"/>
<rect x="1106" y="380" width="52" height="14.5" rx="1.5" fill="#000"/>
<rect x="1106" y="391.5" width="52" height="14.5" rx="1.5" fill="#26a69a"/>
<rect x="1106" y="463.5" width="52" height="14.5" rx="1.5" fill="#f44336"/>
<rect x="1106" y="548.5" width="52" height="14.5" rx="1.5" fill="#f44336"/>
<rect x="1106" y="299.5" width="52" height="15.5" rx="1.5" fill="#363a45"/>
<rect x="1088.5" y="299.5" width="16.5" height="15.5" rx="1.5" fill="#363a45"/>
<circle cx="1096.5" cy="307" r="5.5" fill="none" stroke="#d1d4dc" stroke-width="1"/><path d="M1096.5 304 v6 M1093.5 307 h6" stroke="#d1d4dc" stroke-width="1"/>
<rect x="805.5" y="679" width="87" height="19" rx="1" fill="#363a45"/>
<line x1="848.5" y1="679" x2="848.5" y2="686" stroke="#d1d4dc" stroke-dasharray="2 1.5"/>
<polygon points="1140.70,689.20 1138.82,691.11 1138.80,693.80 1136.11,693.82 1134.20,695.70 1132.29,693.82 1129.60,693.80 1129.58,691.11 1127.70,689.20 1129.58,687.29 1129.60,684.60 1132.29,684.58 1134.20,682.70 1136.11,684.58 1138.80,684.60 1138.82,687.29" fill="none" stroke="#b2b5be" stroke-width="1.1" stroke-linejoin="round"/><circle cx="1134.2" cy="689.2" r="2.2" fill="none" stroke="#b2b5be" stroke-width="1.1"/>
</svg><div class="t" style="left:216.2px;top:265.2px;font-size:10.5px;color:#e8950f;font-weight:bold;transform:scaleX(0.882);transform-origin:0 50%;">R3</div><div class="t" style="left:216.2px;top:322.7px;font-size:10.5px;color:#e8950f;font-weight:bold;transform:scaleX(0.882);transform-origin:0 50%;">R2</div><div class="t" style="left:216.2px;top:358.0px;font-size:10.5px;color:#e8950f;font-weight:bold;transform:scaleX(0.882);transform-origin:0 50%;">R1</div><div class="t" style="left:221.2px;top:414.4px;font-size:10.5px;color:#e8950f;font-weight:bold;transform:scaleX(0.977);transform-origin:0 50%;">P</div><div class="t" style="left:216.2px;top:471.5px;font-size:10.5px;color:#e8950f;font-weight:bold;transform:scaleX(0.922);transform-origin:0 50%;">S1</div><div class="t" style="left:216.2px;top:506.6px;font-size:10.5px;color:#e8950f;font-weight:bold;transform:scaleX(0.922);transform-origin:0 50%;">S2</div><div class="t" style="left:216.2px;top:563.6px;font-size:10.5px;color:#e8950f;font-weight:bold;transform:scaleX(0.922);transform-origin:0 50%;">S3</div><div class="t" style="left:414.2px;top:143.3px;font-size:10.5px;color:#e8950f;font-weight:bold;transform:scaleX(0.882);transform-origin:0 50%;">R3</div><div class="t" style="left:414.2px;top:233.3px;font-size:10.5px;color:#e8950f;font-weight:bold;transform:scaleX(0.882);transform-origin:0 50%;">R2</div><div class="t" style="left:414.2px;top:289.5px;font-size:10.5px;color:#e8950f;font-weight:bold;transform:scaleX(0.882);transform-origin:0 50%;">R1</div><div class="t" style="left:419.2px;top:379.5px;font-size:10.5px;color:#e8950f;font-weight:bold;transform:scaleX(0.977);transform-origin:0 50%;">P</div><div class="t" style="left:414.2px;top:470.8px;font-size:10.5px;color:#e8950f;font-weight:bold;transform:scaleX(0.922);transform-origin:0 50%;">S1</div><div class="t" style="left:414.2px;top:526.1px;font-size:10.5px;color:#e8950f;font-weight:bold;transform:scaleX(0.922);transform-origin:0 50%;">S2</div><div class="t" style="left:414.2px;top:616.3px;font-size:10.5px;color:#e8950f;font-weight:bold;transform:scaleX(0.922);transform-origin:0 50%;">S3</div><div class="t" style="left:612.2px;top:191.1px;font-size:10.5px;color:#e8950f;font-weight:bold;transform:scaleX(0.882);transform-origin:0 50%;">R3</div><div class="t" style="left:612.2px;top:253.4px;font-size:10.5px;color:#e8950f;font-weight:bold;transform:scaleX(0.882);transform-origin:0 50%;">R2</div><div class="t" style="left:612.2px;top:291.0px;font-size:10.5px;color:#e8950f;font-weight:bold;transform:scaleX(0.882);transform-origin:0 50%;">R1</div><div class="t" style="left:617.2px;top:353.5px;font-size:10.5px;color:#e8950f;font-weight:bold;transform:scaleX(0.977);transform-origin:0 50%;">P</div><div class="t" style="left:612.2px;top:415.1px;font-size:10.5px;color:#e8950f;font-weight:bold;transform:scaleX(0.922);transform-origin:0 50%;">S1</div><div class="t" style="left:612.2px;top:453.6px;font-size:10.5px;color:#e8950f;font-weight:bold;transform:scaleX(0.922);transform-origin:0 50%;">S2</div><div class="t" style="left:612.2px;top:515.8px;font-size:10.5px;color:#e8950f;font-weight:bold;transform:scaleX(0.922);transform-origin:0 50%;">S3</div><div class="t" style="left:485.4px;top:250.5px;font-size:10.5px;color:#fff;font-weight:normal;transform:scaleX(0.917);transform-origin:0 50%;">BE</div><div class="t" style="left:588.6px;top:272.5px;font-size:10.5px;color:#fff;font-weight:normal;transform:scaleX(0.917);transform-origin:0 50%;">BE</div><svg width="1366" height="768"><path d="M201 496 a2 2 0 0 1 2 -2 h6 l5 -5.5 5 5.5 h6 a2 2 0 0 1 2 2 v14 a2 2 0 0 1 -2 2 h-22 a2 2 0 0 1 -2 -2z" fill="#2196f3"/></svg><div class="t" style="left:207.6px;top:498.0px;font-size:10.5px;color:#fff;font-weight:normal;transform:scaleX(0.917);transform-origin:0 50%;">BE</div><div class="t" style="left:353.6px;top:402.0px;font-size:10.5px;color:#fff;font-weight:normal;transform:scaleX(1.034);transform-origin:0 50%;">D</div><div class="t" style="left:1114.0px;top:152.8px;font-size:10px;color:#b2b5be;font-weight:normal;transform:scaleX(0.954);transform-origin:0 50%;">35500.00</div><div class="t" style="left:1114.0px;top:187.5px;font-size:10px;color:#b2b5be;font-weight:normal;transform:scaleX(0.954);transform-origin:0 50%;">35400.00</div><div class="t" style="left:1114.0px;top:222.1px;font-size:10px;color:#b2b5be;font-weight:normal;transform:scaleX(0.954);transform-origin:0 50%;">35300.00</div><div class="t" style="left:1114.0px;top:256.8px;font-size:10px;color:#b2b5be;font-weight:normal;transform:scaleX(0.954);transform-origin:0 50%;">35200.00</div><div class="t" style="left:1114.0px;top:291.4px;font-size:10px;color:#b2b5be;font-weight:normal;transform:scaleX(0.954);transform-origin:0 50%;">35100.00</div><div class="t" style="left:1114.0px;top:326.0px;font-size:10px;color:#b2b5be;font-weight:normal;transform:scaleX(0.954);transform-origin:0 50%;">35000.00</div><div class="t" style="left:1114.0px;top:360.7px;font-size:10px;color:#b2b5be;font-weight:normal;transform:scaleX(0.954);transform-origin:0 50%;">34900.00</div><div class="t" style="left:1114.0px;top:430.0px;font-size:10px;color:#b2b5be;font-weight:normal;transform:scaleX(0.954);transform-origin:0 50%;">34700.00</div><div class="t" style="left:1114.0px;top:499.2px;font-size:10px;color:#b2b5be;font-weight:normal;transform:scaleX(0.954);transform-origin:0 50%;">34500.00</div><div class="t" style="left:1114.0px;top:533.9px;font-size:10px;color:#b2b5be;font-weight:normal;transform:scaleX(0.954);transform-origin:0 50%;">34400.00</div><div class="t" style="left:1114.0px;top:568.5px;font-size:10px;color:#b2b5be;font-weight:normal;transform:scaleX(0.954);transform-origin:0 50%;">34300.00</div><div class="t" style="left:1114.0px;top:603.2px;font-size:10px;color:#b2b5be;font-weight:normal;transform:scaleX(0.954);transform-origin:0 50%;">34200.00</div><div class="t" style="left:1114.0px;top:637.8px;font-size:10px;color:#b2b5be;font-weight:normal;transform:scaleX(0.954);transform-origin:0 50%;">34100.00</div><div class="a" style="left:1106px;top:660px;width:56px;height:18px;overflow:hidden"><div class="t" style="left:8.0px;top:12.4px;font-size:10px;color:#b2b5be;font-weight:normal;transform:scaleX(0.954);transform-origin:0 50%;">34000.00</div></div><div class="t" style="left:1114.0px;top:118.2px;font-size:10px;color:#b2b5be;font-weight:normal;transform:scaleX(0.954);transform-origin:0 50%;">35600.00</div><div class="a" style="left:1119px;top:107px;width:29px;height:16px;background:#131722;border:1px solid #363a45;border-radius:3px"></div><svg width="1366" height="768"><path d="M1141.5 114 l2 2 2 -2" fill="none" stroke="#d1d4dc" stroke-width="1"/></svg><div class="t" style="left:1123.0px;top:110.0px;font-size:10.5px;color:#d1d4dc;font-weight:normal;transform:scaleX(0.931);transform-origin:0 50%;">INR</div><div class="t" style="left:1114.0px;top:203.3px;font-size:10.5px;color:#fff;font-weight:normal;transform:scaleX(0.910);transform-origin:0 50%;">35353.15</div><div class="t" style="left:1114.0px;top:335.3px;font-size:10.5px;color:#fff;font-weight:normal;transform:scaleX(0.910);transform-origin:0 50%;">34970.15</div><div class="t" style="left:1114.0px;top:382.3px;font-size:10.5px;color:#fff;font-weight:normal;transform:scaleX(0.910);transform-origin:0 50%;">34834.85</div><div class="t" style="left:1114.0px;top:393.8px;font-size:10.5px;color:#fff;font-weight:normal;transform:scaleX(0.910);transform-origin:0 50%;">34801.20</div><div class="t" style="left:1114.0px;top:465.8px;font-size:10.5px;color:#fff;font-weight:normal;transform:scaleX(0.910);transform-origin:0 50%;">34593.60</div><div class="t" style="left:1114.0px;top:550.8px;font-size:10.5px;color:#fff;font-weight:normal;transform:scaleX(0.910);transform-origin:0 50%;">34348.05</div><div class="t" style="left:1114.0px;top:302.3px;font-size:10.5px;color:#fff;font-weight:normal;transform:scaleX(0.910);transform-origin:0 50%;">35066.85</div><div class="t" style="left:107.1px;top:684.4px;font-size:10.5px;color:#b2b5be;font-weight:normal;transform:scaleX(0.919);transform-origin:0 50%;">12:00</div><div class="t" style="left:224.3px;top:684.4px;font-size:10.5px;color:#b2b5be;font-weight:normal;transform:scaleX(0.971);transform-origin:0 50%;">23</div><div class="t" style="left:305.6px;top:684.4px;font-size:10.5px;color:#b2b5be;font-weight:normal;transform:scaleX(0.919);transform-origin:0 50%;">12:00</div><div class="t" style="left:422.3px;top:684.4px;font-size:10.5px;color:#b2b5be;font-weight:normal;transform:scaleX(0.971);transform-origin:0 50%;">26</div><div class="t" style="left:503.5px;top:684.4px;font-size:10.5px;color:#b2b5be;font-weight:normal;transform:scaleX(0.919);transform-origin:0 50%;">12:00</div><div class="t" style="left:620.3px;top:684.4px;font-size:10.5px;color:#b2b5be;font-weight:normal;transform:scaleX(0.971);transform-origin:0 50%;">27</div><div class="t" style="left:701.4px;top:684.4px;font-size:10.5px;color:#b2b5be;font-weight:normal;transform:scaleX(0.919);transform-origin:0 50%;">12:00</div><div class="t" style="left:900.1px;top:684.4px;font-size:10.5px;color:#b2b5be;font-weight:normal;transform:scaleX(0.919);transform-origin:0 50%;">12:00</div><div class="t" style="left:1016.7px;top:684.4px;font-size:10.5px;color:#b2b5be;font-weight:normal;transform:scaleX(0.971);transform-origin:0 50%;">29</div><div class="t" style="left:811.0px;top:684.5px;font-size:10.5px;color:#fff;font-weight:normal;transform:scaleX(0.938);transform-origin:0 50%;">28 Jul '21</div><div class="t" style="left:861.0px;top:684.5px;font-size:10.5px;color:#fff;font-weight:normal;transform:scaleX(0.945);transform-origin:0 50%;">10:00</div><!--LEGEND--><svg width="1366" height="768">
<rect x="51.5" y="128.5" width="54.5" height="18.5" rx="3" fill="none" stroke="#f44336" stroke-width="1.1"/>
<rect x="136.5" y="128.5" width="54.5" height="18.5" rx="3" fill="none" stroke="#2962ff" stroke-width="1.1"/>
<path d="M183 110 h9.5 l-2.8 5 2.8 5 h-9.5z" fill="#f7525f"/>
<rect x="208" y="108" width="31" height="13.5" rx="6.75" fill="#2a2e39"/>
<path d="M224 108 h8.25 a6.75 6.75 0 0 1 0 13.5 h-8.25z" fill="#3d2233"/>
<rect x="211.5" y="113" width="9" height="3.5" rx="1.75" fill="#b2b5be"/>
<path d="M227.5 113.5 q1.5 -1.2 3 0 t3 0 M227.5 116.5 q1.5 -1.2 3 0 t3 0" fill="none" stroke="#e91e63" stroke-width="1"/>
<circle cx="85.5" cy="160.5" r="7.5" fill="#3a1f27"/><rect x="84.8" y="156" width="1.5" height="5.5" fill="#f44336"/><rect x="84.8" y="163" width="1.5" height="1.5" fill="#f44336"/>
<rect x="45" y="204" width="120" height="8" fill="#131722" fill-opacity="0.5"/>
<rect x="52.5" y="228.5" width="23" height="17" rx="2" fill="none" stroke="#363a45"/>
<path d="M60 239 l4 -4 4 4" fill="none" stroke="#d1d4dc" stroke-width="1.3"/>
</svg><div class="t" style="left:52.4px;top:108.6px;font-size:13.3px;color:#d1d4dc;font-weight:normal;transform:scaleX(0.846);transform-origin:0 50%;">NIFTY BANK · 15 · NSE</div><div class="t" style="left:253.0px;top:110.7px;font-size:11px;color:#d1d4dc;font-weight:normal;transform:scaleX(0.921);transform-origin:0 50%;">O</div><div class="t" style="left:260.5px;top:110.7px;font-size:11px;color:#26a69a;font-weight:normal;transform:scaleX(0.891);transform-origin:0 50%;">34785.35</div><div class="t" style="left:307.0px;top:110.7px;font-size:11px;color:#d1d4dc;font-weight:normal;transform:scaleX(0.992);transform-origin:0 50%;">H</div><div class="t" style="left:314.5px;top:110.7px;font-size:11px;color:#26a69a;font-weight:normal;transform:scaleX(0.891);transform-origin:0 50%;">34825.80</div><div class="t" style="left:361.0px;top:110.7px;font-size:11px;color:#d1d4dc;font-weight:normal;transform:scaleX(1.125);transform-origin:0 50%;">L</div><div class="t" style="left:368.0px;top:110.7px;font-size:11px;color:#26a69a;font-weight:normal;transform:scaleX(0.891);transform-origin:0 50%;">34781.30</div><div class="t" style="left:414.5px;top:110.7px;font-size:11px;color:#d1d4dc;font-weight:normal;transform:scaleX(0.992);transform-origin:0 50%;">C</div><div class="t" style="left:422.0px;top:110.7px;font-size:11px;color:#26a69a;font-weight:normal;transform:scaleX(0.891);transform-origin:0 50%;">34801.20</div><div class="t" style="left:469.0px;top:110.7px;font-size:11px;color:#26a69a;font-weight:normal;transform:scaleX(0.889);transform-origin:0 50%;">+10.80 (+0.03%)</div><div class="t" style="left:58.0px;top:132.7px;font-size:11px;color:#f44336;font-weight:normal;transform:scaleX(0.891);transform-origin:0 50%;">34797.45</div><div class="t" style="left:112.5px;top:132.7px;font-size:11px;color:#d1d4dc;font-weight:bold;transform:scaleX(0.835);transform-origin:0 50%;">0.00</div><div class="t" style="left:143.0px;top:132.7px;font-size:11px;color:#2962ff;font-weight:normal;transform:scaleX(0.891);transform-origin:0 50%;">34797.45</div><div class="t" style="left:52.4px;top:155.6px;font-size:10.5px;color:#d1d4dc;font-weight:normal;transform:scaleX(1.017);transform-origin:0 50%;">Vol</div><div class="t" style="left:52.4px;top:174.4px;font-size:10.5px;color:#d1d4dc;font-weight:normal;transform:scaleX(1.007);transform-origin:0 50%;">EMA 20/50/100/200</div><div class="t" style="left:151.3px;top:174.6px;font-size:10px;color:#f21f1f;font-weight:normal;">34887.83</div><div class="t" style="left:198.1px;top:174.6px;font-size:10px;color:#ff9800;font-weight:normal;">34931.03</div><div class="t" style="left:245.0px;top:174.6px;font-size:10px;color:#00e5ff;font-weight:normal;">34951.39</div><div class="t" style="left:291.8px;top:174.6px;font-size:10px;color:#1d1de0;font-weight:normal;">35042.99</div><div class="t" style="left:52.4px;top:193.8px;font-size:10px;color:#d1d4dc;font-weight:bold;transform:scaleX(0.983);transform-origin:0 50%;">All Patterns</div><div class="t" style="left:109.3px;top:193.8px;font-size:10px;color:#b2b5be;font-weight:normal;transform:scaleX(0.971);transform-origin:0 50%;">SMA50 Both</div><div class="t" style="left:52.4px;top:213.0px;font-size:10px;color:#d1d4dc;font-weight:bold;transform:scaleX(0.913);transform-origin:0 50%;">Pivots</div><div class="t" style="left:82.6px;top:213.0px;font-size:10px;color:#b2b5be;font-weight:normal;transform:scaleX(1.042);transform-origin:0 50%;">Fibonacci Auto 15</div><div class="t" style="left:58.0px;top:711.3px;font-size:12px;color:#b2b5be;font-weight:normal;transform:scaleX(0.864);transform-origin:0 50%;">1D</div><div class="t" style="left:81.0px;top:711.3px;font-size:12px;color:#b2b5be;font-weight:normal;transform:scaleX(0.936);transform-origin:0 50%;">5D</div><div class="t" style="left:105.4px;top:711.3px;font-size:12px;color:#b2b5be;font-weight:normal;transform:scaleX(0.903);transform-origin:0 50%;">1M</div><div class="t" style="left:130.4px;top:711.3px;font-size:12px;color:#b2b5be;font-weight:normal;transform:scaleX(0.933);transform-origin:0 50%;">3M</div><div class="t" style="left:155.0px;top:711.3px;font-size:12px;color:#b2b5be;font-weight:normal;transform:scaleX(0.957);transform-origin:0 50%;">6M</div><div class="t" style="left:180.0px;top:711.3px;font-size:12px;color:#b2b5be;font-weight:normal;transform:scaleX(0.886);transform-origin:0 50%;">YTD</div><div class="t" style="left:211.7px;top:711.3px;font-size:12px;color:#b2b5be;font-weight:normal;transform:scaleX(0.835);transform-origin:0 50%;">1Y</div><div class="t" style="left:235.0px;top:711.3px;font-size:12px;color:#b2b5be;font-weight:normal;transform:scaleX(0.869);transform-origin:0 50%;">5Y</div><div class="t" style="left:258.2px;top:711.3px;font-size:12px;color:#b2b5be;font-weight:normal;transform:scaleX(1.062);transform-origin:0 50%;">All</div><div class="t" style="left:925.5px;top:711.4px;font-size:12px;color:#b2b5be;font-weight:normal;transform:scaleX(0.913);transform-origin:0 50%;">17:39:47 (UTC+5:30)</div><div class="t" style="left:1054.0px;top:711.4px;font-size:12px;color:#b2b5be;font-weight:normal;transform:scaleX(1.109);transform-origin:0 50%;">ext</div><div class="t" style="left:1082.0px;top:711.4px;font-size:12px;color:#b2b5be;font-weight:normal;transform:scaleX(1.074);transform-origin:0 50%;">%</div><div class="t" style="left:1104.0px;top:711.4px;font-size:12px;color:#b2b5be;font-weight:normal;transform:scaleX(1.034);transform-origin:0 50%;">log</div><div class="t" style="left:1130.0px;top:711.4px;font-size:12px;color:#b2b5be;font-weight:normal;transform:scaleX(1.026);transform-origin:0 50%;">auto</div><div class="t" style="left:57.0px;top:744.0px;font-size:12.5px;color:#d1d4dc;font-weight:normal;transform:scaleX(0.886);transform-origin:0 50%;">Stock Screener</div><div class="t" style="left:164.7px;top:744.0px;font-size:12.5px;color:#d1d4dc;font-weight:normal;transform:scaleX(0.894);transform-origin:0 50%;">Text Notes</div><div class="t" style="left:243.7px;top:744.0px;font-size:12.5px;color:#d1d4dc;font-weight:normal;transform:scaleX(0.901);transform-origin:0 50%;">Pine Editor</div><div class="t" style="left:325.0px;top:744.0px;font-size:12.5px;color:#d1d4dc;font-weight:normal;transform:scaleX(0.902);transform-origin:0 50%;">Strategy Tester</div><div class="t" style="left:427.3px;top:744.0px;font-size:12.5px;color:#d1d4dc;font-weight:normal;transform:scaleX(0.875);transform-origin:0 50%;">Trading Panel</div><svg width="1366" height="768">
<line x1="284.5" y1="708" x2="284.5" y2="726" stroke="#2a2e39"/>
<path d="M299 711 h12 v11 h-12z M299 714.5 h12" fill="none" stroke="#b2b5be" stroke-width="1.1"/><path d="M303 718 h5 M306 716 l2 2 -2 2" fill="none" stroke="#b2b5be" stroke-width="1"/>
<line x1="1041.5" y1="708" x2="1041.5" y2="726" stroke="#2a2e39"/>
<line x1="150.5" y1="735" x2="150.5" y2="765" stroke="#2a2e39"/>
<line x1="230.5" y1="735" x2="230.5" y2="765" stroke="#2a2e39"/>
<line x1="311" y1="735" x2="311" y2="765" stroke="#2a2e39"/>
<line x1="412.5" y1="735" x2="412.5" y2="765" stroke="#2a2e39"/>
<line x1="507.5" y1="735" x2="507.5" y2="765" stroke="#2a2e39"/>
<path d="M140 748.5 l2.5 2.5 2.5 -2.5" fill="none" stroke="#b2b5be" stroke-width="1.1"/>
<path d="M1105.5 753.5 l7 -6.5 7 6.5" fill="none" stroke="#b2b5be" stroke-width="1.2"/>
<rect x="1134.5" y="743.5" width="15" height="12" rx="1" fill="none" stroke="#b2b5be" stroke-width="1.1"/><line x1="1134.5" y1="746.5" x2="1149.5" y2="746.5" stroke="#b2b5be" stroke-width="1.1"/>
<rect x="223" y="765" width="36" height="3" fill="#434651"/>
<rect x="1162.5" y="699" width="6" height="20" rx="2" fill="#1e222d" stroke="#363a45" stroke-width="0.8"/><path d="M1164.5 706 l2 2.5 -2 2.5" fill="none" stroke="#b2b5be" stroke-width="0.9"/>
</svg><!--WATCHLIST--><svg width="1366" height="768">
<path d="M1219 85.5 h10.5 l-3 5 3 5 h-10.5z" fill="#f7525f"/>
<path d="M1236.5 88.5 l3 3 3 -3" fill="none" stroke="#b2b5be" stroke-width="1.1"/>
<path d="M1271.5 90 h12 M1277.5 84 v12" stroke="#d1d4dc" stroke-width="1.2"/>
<circle cx="1301.5" cy="90" r="2" fill="none" stroke="#d1d4dc" stroke-width="1.1"/>
<circle cx="1308" cy="90" r="2" fill="none" stroke="#d1d4dc" stroke-width="1.1"/>
<circle cx="1314.5" cy="90" r="2" fill="none" stroke="#d1d4dc" stroke-width="1.1"/>
<line x1="1165" y1="131.5" x2="1329" y2="131.5" stroke="#2a2e39"/>
<line x1="1165" y1="136.5" x2="1329" y2="136.5" stroke="#2a2e39"/>
<line x1="1165" y1="160.5" x2="1329" y2="160.5" stroke="#2a2e39"/>
<line x1="1165" y1="184.5" x2="1329" y2="184.5" stroke="#2a2e39"/>
<line x1="1165" y1="208.5" x2="1329" y2="208.5" stroke="#2a2e39"/>
<line x1="1165" y1="232.5" x2="1329" y2="232.5" stroke="#2a2e39"/>
<line x1="1165" y1="256.5" x2="1329" y2="256.5" stroke="#2a2e39"/>
<line x1="1165" y1="280.5" x2="1329" y2="280.5" stroke="#2a2e39"/>
<line x1="1165" y1="304.5" x2="1329" y2="304.5" stroke="#2a2e39"/>
<line x1="1165" y1="328.5" x2="1329" y2="328.5" stroke="#2a2e39"/>
<line x1="1165" y1="352.5" x2="1329" y2="352.5" stroke="#2a2e39"/>
<line x1="1165" y1="376.5" x2="1329" y2="376.5" stroke="#2a2e39"/>
<line x1="1165" y1="400.5" x2="1329" y2="400.5" stroke="#2a2e39"/>
<line x1="1165" y1="424.5" x2="1329" y2="424.5" stroke="#2a2e39"/>
<line x1="1165" y1="448.5" x2="1329" y2="448.5" stroke="#2a2e39"/>
<line x1="1165" y1="472.5" x2="1329" y2="472.5" stroke="#2a2e39"/>
<line x1="1165" y1="496.5" x2="1329" y2="496.5" stroke="#2a2e39"/>
<line x1="1165" y1="520.5" x2="1329" y2="520.5" stroke="#2a2e39"/>
<line x1="1165" y1="525" x2="1329" y2="525" stroke="#2a2e39"/>
<rect x="1166" y="137" width="162.5" height="23" fill="none" stroke="#2962ff" stroke-width="2"/>
<path d="M1165.5 143.3 h10 l-3 5.2 3 5.2 h-10z" fill="#f7525f"/>
<circle cx="1208.6" cy="148.5" r="2.6" fill="#9598a1"/>
<path d="M1165.5 167.3 h10 l-3 5.2 3 5.2 h-10z" fill="#f7525f"/>
<circle cx="1208.6" cy="172.5" r="2.6" fill="#9598a1"/>
<path d="M1165.5 191.3 h10 l-3 5.2 3 5.2 h-10z" fill="#f7525f"/>
<circle cx="1208.6" cy="196.5" r="2.6" fill="#9598a1"/>
<path d="M1165.5 215.3 h10 l-3 5.2 3 5.2 h-10z" fill="#f7525f"/>
<circle cx="1208.6" cy="220.5" r="2.6" fill="#9598a1"/>
<path d="M1165.5 239.3 h10 l-3 5.2 3 5.2 h-10z" fill="#f7525f"/>
<circle cx="1198.0" cy="244.5" r="2.6" fill="#9598a1"/>
<path d="M1165.5 263.3 h10 l-3 5.2 3 5.2 h-10z" fill="#f7525f"/>
<circle cx="1208.5" cy="268.5" r="2.6" fill="#9598a1"/>
<path d="M1165.5 287.3 h10 l-3 5.2 3 5.2 h-10z" fill="#f7525f"/>
<circle cx="1208.6" cy="292.5" r="2.6" fill="#9598a1"/>
<path d="M1165.5 311.3 h10 l-3 5.2 3 5.2 h-10z" fill="#f7525f"/>
<circle cx="1208.6" cy="316.5" r="2.6" fill="#9598a1"/>
<path d="M1165.5 335.3 h10 l-3 5.2 3 5.2 h-10z" fill="#f7525f"/>
<circle cx="1208.6" cy="340.5" r="2.6" fill="#9598a1"/>
<path d="M1165.5 359.3 h10 l-3 5.2 3 5.2 h-10z" fill="#f7525f"/>
<circle cx="1203.3" cy="364.5" r="2.6" fill="#9598a1"/>
<path d="M1165.5 383.3 h10 l-3 5.2 3 5.2 h-10z" fill="#f7525f"/>
<circle cx="1208.6" cy="388.5" r="2.6" fill="#9598a1"/>
<path d="M1165.5 407.3 h10 l-3 5.2 3 5.2 h-10z" fill="#f7525f"/>
<circle cx="1207.5" cy="412.5" r="2.6" fill="#9598a1"/>
<path d="M1165.5 431.3 h10 l-3 5.2 3 5.2 h-10z" fill="#f7525f"/>
<circle cx="1208.5" cy="436.5" r="2.6" fill="#9598a1"/>
<path d="M1165.5 455.3 h10 l-3 5.2 3 5.2 h-10z" fill="#f7525f"/>
<circle cx="1208.6" cy="460.5" r="2.6" fill="#9598a1"/>
<path d="M1165.5 479.3 h10 l-3 5.2 3 5.2 h-10z" fill="#f7525f"/>
<circle cx="1206.9" cy="484.5" r="2.6" fill="#9598a1"/>
<path d="M1165.5 503.3 h10 l-3 5.2 3 5.2 h-10z" fill="#f7525f"/>
<circle cx="1208.6" cy="508.5" r="2.6" fill="#9598a1"/>
</svg><div class="t" style="left:1176.6px;top:84.8px;font-size:13px;color:#d1d4dc;font-weight:normal;transform:scaleX(0.905);transform-origin:0 50%;">Red list</div><div class="t" style="left:1177.7px;top:115.7px;font-size:11px;color:#787b86;font-weight:normal;transform:scaleX(0.995);transform-origin:0 50%;">Symbol</div><div class="t" style="left:1229.0px;top:115.7px;font-size:11px;color:#787b86;font-weight:normal;transform:scaleX(0.995);transform-origin:0 50%;">Last</div><div class="t" style="left:1264.2px;top:115.7px;font-size:11px;color:#787b86;font-weight:normal;transform:scaleX(0.950);transform-origin:0 50%;">Chg</div><div class="t" style="left:1297.4px;top:115.7px;font-size:11px;color:#787b86;font-weight:normal;transform:scaleX(0.874);transform-origin:0 50%;">Chg%</div><div class="a" style="left:1177.5px;top:141.5px;width:26px;height:16px;overflow:hidden"><div class="t" style="left:0.0px;top:2.7px;font-size:11px;color:#d1d4dc;font-weight:normal;transform:scaleX(0.889);transform-origin:0 50%;">BANK</div></div><div class="a" style="left:1213.6px;top:141.5px;width:35.6px;height:16px;overflow:hidden"><div class="t" style="left:0.0px;top:2.7px;font-size:11px;color:#d1d4dc"><span>34797.45</span><span style="color:#f44336"></span></div></div><div class="a" style="left:1250px;top:141.5px;width:32.8px;height:16px;overflow:hidden"><div class="t" style="left:0.0px;top:2.7px;font-size:11px;color:#f44336">−152.25</div></div><div class="t" style="left:1288.2px;top:144.2px;font-size:11px;color:#f44336;font-weight:normal;transform:scaleX(0.928);transform-origin:0 50%;">−0.44%</div><div class="a" style="left:1177.5px;top:165.5px;width:26px;height:16px;overflow:hidden"><div class="t" style="left:0.0px;top:2.7px;font-size:11px;color:#d1d4dc;font-weight:normal;transform:scaleX(0.888);transform-origin:0 50%;">NIFTY</div></div><div class="a" style="left:1213.6px;top:165.5px;width:35.6px;height:16px;overflow:hidden"><div class="t" style="left:0.0px;top:2.7px;font-size:11px;color:#d1d4dc"><span>15746.45</span><span style="color:#f44336"></span></div></div><div class="a" style="left:1250px;top:165.5px;width:32.8px;height:16px;overflow:hidden"><div class="t" style="left:0.0px;top:2.7px;font-size:11px;color:#f44336">−78.00</div></div><div class="t" style="left:1288.2px;top:168.2px;font-size:11px;color:#f44336;font-weight:normal;transform:scaleX(0.928);transform-origin:0 50%;">−0.49%</div><div class="a" style="left:1177.5px;top:189.5px;width:26px;height:16px;overflow:hidden"><div class="t" style="left:0.0px;top:2.7px;font-size:11px;color:#d1d4dc;font-weight:normal;transform:scaleX(0.890);transform-origin:0 50%;">INDIA</div></div><div class="a" style="left:1213.6px;top:189.5px;width:35.6px;height:16px;overflow:hidden"><div class="t" style="left:0.0px;top:2.7px;font-size:11px;color:#d1d4dc"><span>13.2325</span><span style="color:#26a69a"></span></div></div><div class="a" style="left:1250px;top:189.5px;width:32.8px;height:16px;overflow:hidden"><div class="t" style="left:0.0px;top:2.7px;font-size:11px;color:#26a69a">0.7825</div></div><div class="t" style="left:1294.6px;top:192.2px;font-size:11px;color:#26a69a;font-weight:normal;transform:scaleX(0.913);transform-origin:0 50%;">6.29%</div><div class="a" style="left:1177.5px;top:213.5px;width:26px;height:16px;overflow:hidden"><div class="t" style="left:0.0px;top:2.7px;font-size:11px;color:#d1d4dc;font-weight:normal;transform:scaleX(0.889);transform-origin:0 50%;">HDFC</div></div><div class="a" style="left:1213.6px;top:213.5px;width:35.6px;height:16px;overflow:hidden"><div class="t" style="left:0.0px;top:2.7px;font-size:11px;color:#d1d4dc"><span>143</span><span style="color:#26a69a">9.75</span></div></div><div class="a" style="left:1250px;top:213.5px;width:32.8px;height:16px;overflow:hidden"><div class="t" style="left:11.4px;top:2.7px;font-size:11px;color:#26a69a">5.20</div></div><div class="t" style="left:1294.6px;top:216.2px;font-size:11px;color:#26a69a;font-weight:normal;transform:scaleX(0.913);transform-origin:0 50%;">0.36%</div><div class="a" style="left:1177.5px;top:237.5px;width:26px;height:16px;overflow:hidden"><div class="t" style="left:0.0px;top:2.7px;font-size:11px;color:#d1d4dc;font-weight:normal;transform:scaleX(0.913);transform-origin:0 50%;">DJI</div></div><div class="a" style="left:1213.6px;top:237.5px;width:35.6px;height:16px;overflow:hidden"><div class="t" style="left:0.0px;top:2.7px;font-size:11px;color:#d1d4dc"><span>35</span><span style="color:#26a69a">144.34</span></div></div><div class="a" style="left:1250px;top:237.5px;width:32.8px;height:16px;overflow:hidden"><div class="t" style="left:5.3px;top:2.7px;font-size:11px;color:#26a69a">82.76</div></div><div class="t" style="left:1294.6px;top:240.2px;font-size:11px;color:#26a69a;font-weight:normal;transform:scaleX(0.913);transform-origin:0 50%;">0.24%</div><div class="a" style="left:1177.5px;top:261.5px;width:26px;height:16px;overflow:hidden"><div class="t" style="left:0.0px;top:2.7px;font-size:11px;color:#d1d4dc;font-weight:normal;transform:scaleX(0.891);transform-origin:0 50%;">WIPR</div></div><div class="a" style="left:1213.6px;top:261.5px;width:35.6px;height:16px;overflow:hidden"><div class="t" style="left:2.0px;top:2.7px;font-size:11px;color:#d1d4dc"><span>59</span><span style="color:#26a69a">1.45</span></div></div><div class="a" style="left:1250px;top:261.5px;width:32.8px;height:16px;overflow:hidden"><div class="t" style="left:11.4px;top:2.7px;font-size:11px;color:#26a69a">1.00</div></div><div class="t" style="left:1294.6px;top:264.2px;font-size:11px;color:#26a69a;font-weight:normal;transform:scaleX(0.913);transform-origin:0 50%;">0.17%</div><div class="a" style="left:1177.5px;top:285.5px;width:26px;height:16px;overflow:hidden"><div class="t" style="left:0.0px;top:2.7px;font-size:11px;color:#d1d4dc;font-weight:normal;transform:scaleX(0.888);transform-origin:0 50%;">JINDA</div></div><div class="a" style="left:1213.6px;top:285.5px;width:35.6px;height:16px;overflow:hidden"><div class="t" style="left:2.0px;top:2.7px;font-size:11px;color:#d1d4dc"><span>4</span><span style="color:#26a69a">19.80</span></div></div><div class="a" style="left:1250px;top:285.5px;width:32.8px;height:16px;overflow:hidden"><div class="t" style="left:5.3px;top:2.7px;font-size:11px;color:#26a69a">16.00</div></div><div class="t" style="left:1294.6px;top:288.2px;font-size:11px;color:#26a69a;font-weight:normal;transform:scaleX(0.913);transform-origin:0 50%;">3.96%</div><div class="a" style="left:1177.5px;top:309.5px;width:26px;height:16px;overflow:hidden"><div class="t" style="left:0.0px;top:2.7px;font-size:11px;color:#d1d4dc;font-weight:normal;transform:scaleX(0.887);transform-origin:0 50%;">TATAS</div></div><div class="a" style="left:1213.6px;top:309.5px;width:35.6px;height:16px;overflow:hidden"><div class="t" style="left:0.0px;top:2.7px;font-size:11px;color:#d1d4dc"><span>1</span><span style="color:#26a69a">330.65</span></div></div><div class="a" style="left:1250px;top:309.5px;width:32.8px;height:16px;overflow:hidden"><div class="t" style="left:5.3px;top:2.7px;font-size:11px;color:#26a69a">32.70</div></div><div class="t" style="left:1294.6px;top:312.2px;font-size:11px;color:#26a69a;font-weight:normal;transform:scaleX(0.913);transform-origin:0 50%;">2.52%</div><div class="a" style="left:1177.5px;top:333.5px;width:26px;height:16px;overflow:hidden"><div class="t" style="left:0.0px;top:2.7px;font-size:11px;color:#d1d4dc;font-weight:normal;transform:scaleX(0.889);transform-origin:0 50%;">ADAN</div></div><div class="a" style="left:1213.6px;top:333.5px;width:35.6px;height:16px;overflow:hidden"><div class="t" style="left:2.0px;top:2.7px;font-size:11px;color:#d1d4dc"><span>6</span><span style="color:#f44336">63.20</span></div></div><div class="a" style="left:1250px;top:333.5px;width:32.8px;height:16px;overflow:hidden"><div class="t" style="left:0.0px;top:2.7px;font-size:11px;color:#f44336">−19.60</div></div><div class="t" style="left:1288.2px;top:336.2px;font-size:11px;color:#f44336;font-weight:normal;transform:scaleX(0.928);transform-origin:0 50%;">−2.87%</div><div class="a" style="left:1177.5px;top:357.5px;width:26px;height:16px;overflow:hidden"><div class="t" style="left:0.0px;top:2.7px;font-size:11px;color:#d1d4dc;font-weight:normal;transform:scaleX(0.899);transform-origin:0 50%;">PNB</div></div><div class="a" style="left:1213.6px;top:357.5px;width:35.6px;height:16px;overflow:hidden"><div class="t" style="left:8.1px;top:2.7px;font-size:11px;color:#d1d4dc"><span>39.</span><span style="color:#f44336">15</span></div></div><div class="a" style="left:1250px;top:357.5px;width:32.8px;height:16px;overflow:hidden"><div class="t" style="left:5.0px;top:2.7px;font-size:11px;color:#f44336">−0.20</div></div><div class="t" style="left:1288.2px;top:360.2px;font-size:11px;color:#f44336;font-weight:normal;transform:scaleX(0.928);transform-origin:0 50%;">−0.51%</div><div class="a" style="left:1177.5px;top:381.5px;width:26px;height:16px;overflow:hidden"><div class="t" style="left:0.0px;top:2.7px;font-size:11px;color:#d1d4dc;font-weight:normal;transform:scaleX(0.888);transform-origin:0 50%;">ASHO</div></div><div class="a" style="left:1213.6px;top:381.5px;width:35.6px;height:16px;overflow:hidden"><div class="t" style="left:2.0px;top:2.7px;font-size:11px;color:#d1d4dc"><span>10</span><span style="color:#f44336">1.45</span></div></div><div class="a" style="left:1250px;top:381.5px;width:32.8px;height:16px;overflow:hidden"><div class="t" style="left:5.0px;top:2.7px;font-size:11px;color:#f44336">−1.20</div></div><div class="t" style="left:1288.2px;top:384.2px;font-size:11px;color:#f44336;font-weight:normal;transform:scaleX(0.928);transform-origin:0 50%;">−1.17%</div><div class="a" style="left:1177.5px;top:405.5px;width:26px;height:16px;overflow:hidden"><div class="t" style="left:0.0px;top:2.7px;font-size:11px;color:#d1d4dc;font-weight:normal;transform:scaleX(0.892);transform-origin:0 50%;">MAHI</div></div><div class="a" style="left:1213.6px;top:405.5px;width:35.6px;height:16px;overflow:hidden"><div class="t" style="left:2.0px;top:2.7px;font-size:11px;color:#d1d4dc"><span>26</span><span style="color:#f44336">7.90</span></div></div><div class="a" style="left:1250px;top:405.5px;width:32.8px;height:16px;overflow:hidden"><div class="t" style="left:5.0px;top:2.7px;font-size:11px;color:#f44336">−0.55</div></div><div class="t" style="left:1288.2px;top:408.2px;font-size:11px;color:#f44336;font-weight:normal;transform:scaleX(0.928);transform-origin:0 50%;">−0.20%</div><div class="a" style="left:1177.5px;top:429.5px;width:26px;height:16px;overflow:hidden"><div class="t" style="left:0.0px;top:2.7px;font-size:11px;color:#d1d4dc;font-weight:normal;transform:scaleX(0.891);transform-origin:0 50%;">TATAI</div></div><div class="a" style="left:1213.6px;top:429.5px;width:35.6px;height:16px;overflow:hidden"><div class="t" style="left:2.0px;top:2.7px;font-size:11px;color:#d1d4dc"><span>29</span><span style="color:#f44336">1.40</span></div></div><div class="a" style="left:1250px;top:429.5px;width:32.8px;height:16px;overflow:hidden"><div class="t" style="left:5.0px;top:2.7px;font-size:11px;color:#f44336">−1.75</div></div><div class="t" style="left:1288.2px;top:432.2px;font-size:11px;color:#f44336;font-weight:normal;transform:scaleX(0.928);transform-origin:0 50%;">−0.60%</div><div class="a" style="left:1177.5px;top:453.5px;width:26px;height:16px;overflow:hidden"><div class="t" style="left:0.0px;top:2.7px;font-size:11px;color:#d1d4dc;font-weight:normal;transform:scaleX(0.889);transform-origin:0 50%;">COAL</div></div><div class="a" style="left:1213.6px;top:453.5px;width:35.6px;height:16px;overflow:hidden"><div class="t" style="left:2.0px;top:2.7px;font-size:11px;color:#d1d4dc"><span>14</span><span style="color:#f44336">2.45</span></div></div><div class="a" style="left:1250px;top:453.5px;width:32.8px;height:16px;overflow:hidden"><div class="t" style="left:5.0px;top:2.7px;font-size:11px;color:#f44336">−1.55</div></div><div class="t" style="left:1288.2px;top:456.2px;font-size:11px;color:#f44336;font-weight:normal;transform:scaleX(0.928);transform-origin:0 50%;">−1.08%</div><div class="a" style="left:1177.5px;top:477.5px;width:26px;height:16px;overflow:hidden"><div class="t" style="left:0.0px;top:2.7px;font-size:11px;color:#d1d4dc;font-weight:normal;transform:scaleX(0.893);transform-origin:0 50%;">INDU</div></div><div class="a" style="left:1213.6px;top:477.5px;width:35.6px;height:16px;overflow:hidden"><div class="t" style="left:2.0px;top:2.7px;font-size:11px;color:#d1d4dc"><span>22</span><span style="color:#f44336">2.90</span></div></div><div class="a" style="left:1250px;top:477.5px;width:32.8px;height:16px;overflow:hidden"><div class="t" style="left:5.0px;top:2.7px;font-size:11px;color:#f44336">−1.30</div></div><div class="t" style="left:1288.2px;top:480.2px;font-size:11px;color:#f44336;font-weight:normal;transform:scaleX(0.928);transform-origin:0 50%;">−0.58%</div><div class="a" style="left:1177.5px;top:501.5px;width:26px;height:16px;overflow:hidden"><div class="t" style="left:0.0px;top:2.7px;font-size:11px;color:#d1d4dc;font-weight:normal;transform:scaleX(0.889);transform-origin:0 50%;">ADAN</div></div><div class="a" style="left:1213.6px;top:501.5px;width:35.6px;height:16px;overflow:hidden"><div class="t" style="left:8.1px;top:2.7px;font-size:11px;color:#d1d4dc"><span>9</span><span style="color:#f44336">4.75</span></div></div><div class="a" style="left:1250px;top:501.5px;width:32.8px;height:16px;overflow:hidden"><div class="t" style="left:5.0px;top:2.7px;font-size:11px;color:#f44336">−3.20</div></div><div class="t" style="left:1288.2px;top:504.2px;font-size:11px;color:#f44336;font-weight:normal;transform:scaleX(0.928);transform-origin:0 50%;">−3.27%</div><svg width="1366" height="768">
<circle cx="1187.4" cy="546.5" r="9.7" fill="#2e7d32"/>
<path d="M1182 542.5 h7 M1182 545.5 h5 M1182 548.5 h4" stroke="#fff" stroke-width="1.3"/><circle cx="1190.5" cy="549" r="3.2" fill="#fff"/>
<path d="M1234 571.5 v7.5 h7.5 v-3 M1237.5 571.5 h4 v4 M1241.5 571.5 l-4.5 4.5" fill="none" stroke="#787b86" stroke-width="1"/>
<circle cx="1247.8" cy="576" r="1.2" fill="#787b86"/>
<circle cx="1180.3" cy="662" r="2.6" fill="#787b86"/>
<rect x="1177.8" y="713" width="138.2" height="4.6" rx="2.3" fill="#2a2e39"/>
<rect x="1203" y="713" width="69" height="4.6" fill="#f44336"/>
<path d="M1199.4 726 l4.5 -6 4.5 6z" fill="#d1d4dc"/>
</svg><div class="t" style="left:1203.6px;top:540.3px;font-size:13px;color:#d1d4dc;font-weight:bold;transform:scaleX(0.786);transform-origin:0 50%;">BANKNIFTY</div><div class="t" style="left:1177.8px;top:570.0px;font-size:11.5px;color:#d1d4dc;font-weight:normal;transform:scaleX(0.764);transform-origin:0 50%;">NIFTY BANK</div><div class="t" style="left:1253.6px;top:570.0px;font-size:11.5px;color:#d1d4dc;font-weight:normal;transform:scaleX(0.724);transform-origin:0 50%;">NSE</div><div class="t" style="left:1177.8px;top:586.2px;font-size:11.5px;color:#787b86;font-weight:normal;transform:scaleX(0.868);transform-origin:0 50%;">Index</div><div class="t" style="left:1178.7px;top:612.8px;font-size:24px;color:#d1d4dc;font-weight:bold;transform:scaleX(1.074);transform-origin:0 50%;">34797.45</div><div class="t" style="left:1288.5px;top:622.7px;font-size:11px;color:#d1d4dc;font-weight:bold;transform:scaleX(0.812);transform-origin:0 50%;">INR</div><div class="t" style="left:1178.7px;top:640.8px;font-size:14px;color:#f44336;font-weight:normal;transform:scaleX(0.866);transform-origin:0 50%;">−152.25 (−0.44%)</div><div class="t" style="left:1185.8px;top:657.7px;font-size:9px;color:#787b86;font-weight:normal;transform:scaleX(0.842);transform-origin:0 50%;">MARKET CLOSED</div><div class="t" style="left:1184.2px;top:667.5px;font-size:9px;color:#787b86;font-weight:normal;transform:scaleX(0.947);transform-origin:0 50%;">(JUL 27 17:04 UTC+5:30)</div><div class="t" style="left:1177.8px;top:693.1px;font-size:11.5px;color:#d1d4dc;font-weight:bold;transform:scaleX(0.885);transform-origin:0 50%;">34713....</div><div class="t" style="left:1235.5px;top:687.2px;font-size:9.5px;color:#b2b5be;font-weight:normal;transform:scaleX(0.866);transform-origin:0 50%;">DAY'S</div><div class="t" style="left:1232.3px;top:699.4px;font-size:9.5px;color:#b2b5be;font-weight:normal;transform:scaleX(0.854);transform-origin:0 50%;">RANGE</div><div class="t" style="left:1274.6px;top:693.1px;font-size:11.5px;color:#d1d4dc;font-weight:bold;transform:scaleX(0.887);transform-origin:0 50%;">35186....</div><!--ICONBAR--><svg width="1366" height="768">
<line x1="1329.5" y1="70" x2="1329.5" y2="768" stroke="#0c0e15" stroke-width="1.5"/>
<line x1="1331" y1="356.5" x2="1366" y2="356.5" stroke="#363a45"/>
<line x1="1165" y1="526" x2="1366" y2="526" stroke="#363a45" stroke-width="2.5"/>
<rect x="1338.5" y="82.5" width="18.5" height="17.5" rx="3" fill="none" stroke="#2962ff" stroke-width="1.4"/>
<path d="M1342 85.8 h11 M1342 89 h11 M1342 92.2 h11 M1342 95.4 h11" stroke="#2962ff" stroke-width="1.2"/>
<circle cx="1347.9" cy="130.4" r="7" fill="none" stroke="#9598a1" stroke-width="1.1"/><path d="M1348 126.5 v4.5 h-3" fill="none" stroke="#9598a1" stroke-width="1.1"/><path d="M1339.5 125.5 a3.5 3.5 0 0 1 5 -4.5 M1356.3 125.5 a3.5 3.5 0 0 0 -5 -4.5 M1342 138.5 l-1.5 2 M1354 138.5 l1.5 2" fill="none" stroke="#9598a1" stroke-width="1.1"/>
<path d="M1338.5 162 h14.5 v17.5 h-14.5z M1353 166.5 h4.5 v11 a2 2 0 0 1 -4.5 0" fill="none" stroke="#9598a1" stroke-width="1.1"/><rect x="1341" y="164.5" width="4" height="3.5" fill="none" stroke="#9598a1" stroke-width="1"/><path d="M1347 165 h4 M1347 167.5 h4 M1341 171 h10 M1341 173.5 h10 M1341 176 h6" stroke="#9598a1" stroke-width="1"/>
<path d="M1338 201 v5 M1335.5 203.5 h5" stroke="#9598a1" stroke-width="1"/><rect x="1339" y="204" width="18" height="16" rx="2.5" fill="none" stroke="#9598a1" stroke-width="1.1"/><path d="M1342 208 h12 M1342 212 h8 M1352 212 h2 M1342 215.5 h8 M1352 215.5 h2" stroke="#9598a1" stroke-width="1.1"/>
<path d="M1347 243 c-5 4 -7.5 8 -7.5 11 a8 7.5 0 0 0 16 0 c0 -3 -1.5 -5 -3 -7 c0 2 -1 4 -3 4.5 c1 -3 0 -6 -2.5 -8.5z" fill="none" stroke="#9598a1" stroke-width="1.1"/>
<rect x="1338.5" y="281.5" width="18.5" height="18.5" rx="3" fill="none" stroke="#9598a1" stroke-width="1.1"/><path d="M1342.5 279.5 v4 M1353 279.5 v4" stroke="#9598a1" stroke-width="1.1"/>
<circle cx="1343" cy="286.5" r="1.1" fill="none" stroke="#9598a1" stroke-width="0.9"/>
<circle cx="1343" cy="291" r="1.1" fill="none" stroke="#9598a1" stroke-width="0.9"/>
<circle cx="1343" cy="295.5" r="1.1" fill="none" stroke="#9598a1" stroke-width="0.9"/>
<circle cx="1347.8" cy="286.5" r="1.1" fill="none" stroke="#9598a1" stroke-width="0.9"/>
<circle cx="1347.8" cy="291" r="1.1" fill="none" stroke="#9598a1" stroke-width="0.9"/>
<circle cx="1347.8" cy="295.5" r="1.1" fill="none" stroke="#9598a1" stroke-width="0.9"/>
<circle cx="1352.6" cy="286.5" r="1.1" fill="none" stroke="#9598a1" stroke-width="0.9"/>
<circle cx="1352.6" cy="291" r="1.1" fill="none" stroke="#9598a1" stroke-width="0.9"/>
<path d="M1344.5 335 v-2.5 a7.5 7.5 0 1 1 6.5 0 v2.5z M1344.5 337.5 h6.5 M1345.5 340 h4.5 M1347.8 328 v5 M1345.5 328 h4.5" fill="none" stroke="#9598a1" stroke-width="1.1"/>
<path d="M1339 372 h12 a2 2 0 0 1 2 2 v8 a2 2 0 0 1 -2 2 h-8 l-4 4z M1353 376 h3 a2 2 0 0 1 2 2 v12 l-4 -4 h-7 a2 2 0 0 1 -2 -2" fill="none" stroke="#9598a1" stroke-width="1.1"/>
<path d="M1338.5 411 h13 a2 2 0 0 1 2 2 v7.5 a2 2 0 0 1 -2 2 h-9 l-4 4z M1353.5 416 h2.5 a2 2 0 0 1 2 2 v11 l-4 -4 h-9 v-2.5" fill="none" stroke="#9598a1" stroke-width="1.1"/>
<path d="M1344.8 466 v-2.5 a6.5 6.5 0 1 1 6 0 v2.5z M1344.8 468.5 h6 M1346 471 h3.5 M1347.8 460 v4 M1345.8 460 h4" fill="none" stroke="#9598a1" stroke-width="1.1"/><path d="M1337 451 a13 13 0 0 0 0 16 M1339.5 453.5 a9 9 0 0 0 0 11 M1358.5 451 a13 13 0 0 1 0 16 M1356 453.5 a9 9 0 0 1 0 11" fill="none" stroke="#9598a1" stroke-width="1.1"/>
<path d="M1339 506.5 h17.5 M1341.5 506.5 v-6 a6.2 6.2 0 0 1 12.5 0 v6 M1345.5 509 a2.5 2 0 0 0 4.5 0 M1347.8 492.5 v1.5" fill="none" stroke="#9598a1" stroke-width="1.1"/>
<path d="M1336 558.5 l8 -9.5 7.5 8.5 M1339 559.5 l5 -6 4.5 5" fill="none" stroke="#9598a1" stroke-width="1"/>
<path d="M1346.5 548 l7.5 8.5 7.5 -9.5 M1349.5 547 l4.5 5 5 -6" fill="none" stroke="#9598a1" stroke-width="1"/>
<rect x="1351.5" y="583" width="6" height="3.5" rx="1.75" fill="none" stroke="#9598a1" stroke-width="1"/><rect x="1351.5" y="589" width="6" height="3.5" rx="1.75" fill="none" stroke="#9598a1" stroke-width="1"/><rect x="1339" y="592" width="6" height="3.5" rx="1.75" fill="none" stroke="#9598a1" stroke-width="1"/><rect x="1339" y="598" width="6" height="3.5" rx="1.75" fill="none" stroke="#9598a1" stroke-width="1"/>
<circle cx="1348" cy="584.8" r="1.1" fill="none" stroke="#9598a1" stroke-width="0.9"/>
<circle cx="1348" cy="590.8" r="1.1" fill="none" stroke="#9598a1" stroke-width="0.9"/>
<circle cx="1348" cy="596.8" r="1.1" fill="none" stroke="#9598a1" stroke-width="0.9"/>
<circle cx="1348" cy="599.8" r="1.1" fill="none" stroke="#9598a1" stroke-width="0.9"/>
<path d="M1338 703 l10 -7 10 7 -10 6.5z M1338 707 l10 6.5 10 -6.5 M1338 711 l10 6.5 10 -6.5" fill="none" stroke="#9598a1" stroke-width="1.1" stroke-linejoin="round"/>
<circle cx="1347.7" cy="745.4" r="9.8" fill="none" stroke="#9598a1" stroke-width="1.1"/><path d="M1344.5 742.5 a3.2 3.2 0 1 1 4.5 3 c-1 0.5 -1.3 1 -1.3 2.5" fill="none" stroke="#9598a1" stroke-width="1.2"/><circle cx="1347.7" cy="751" r="0.9" fill="#9598a1"/>
</svg></body></html>
